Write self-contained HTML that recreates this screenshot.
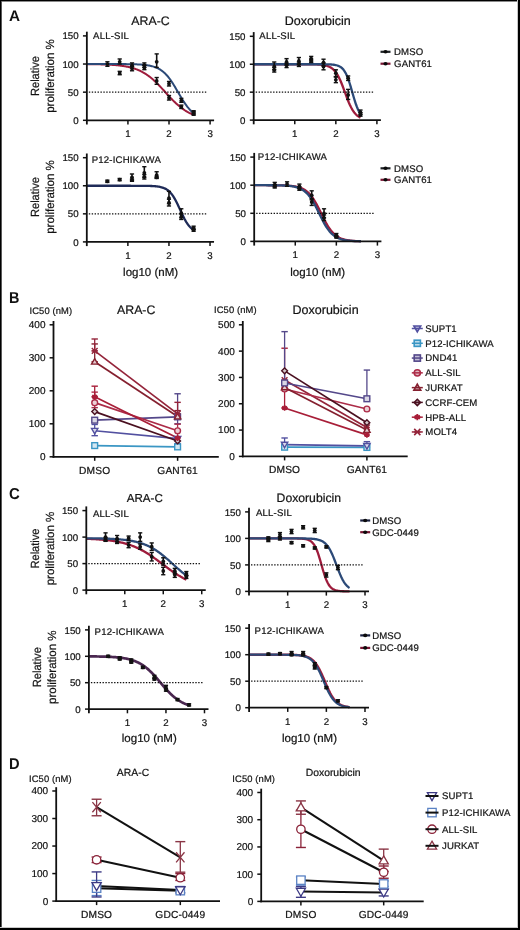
<!DOCTYPE html>
<html><head><meta charset="utf-8"><style>
html,body{margin:0;padding:0;background:#fff;}
body{width:520px;height:930px;overflow:hidden;position:relative;}
svg{position:absolute;left:0;top:0;font-family:"Liberation Sans", sans-serif;will-change:transform;filter:blur(0.3px);}
text{stroke:#1a1a1a;stroke-width:0.22px;text-rendering:geometricPrecision;}
.frame{position:absolute;left:0;top:0;width:520px;height:930px;box-sizing:border-box;border-style:solid;border-color:#000;border-width:1.5px 2px 2px 1.5px;}
</style></head><body>
<svg width="520" height="930" viewBox="0 0 520 930">
<text x="8.90" y="20.80" font-size="15.3" text-anchor="start" font-weight="bold" fill="#111" style="stroke-width:0px">A</text>
<path d="M86.85,64.15L87.74,64.16L88.63,64.17L89.52,64.18L90.41,64.19L91.30,64.20L92.19,64.21L93.08,64.22L93.97,64.24L94.86,64.25L95.75,64.27L96.64,64.29L97.53,64.30L98.42,64.32L99.31,64.35L100.20,64.37L101.09,64.39L101.98,64.42L102.87,64.45L103.76,64.48L104.65,64.51L105.54,64.54L106.43,64.58L107.32,64.62L108.21,64.66L109.10,64.71L109.99,64.75L110.88,64.80L111.77,64.86L112.66,64.92L113.55,64.98L114.44,65.05L115.33,65.12L116.22,65.20L117.11,65.28L118.00,65.37L118.89,65.47L119.78,65.57L120.67,65.67L121.56,65.79L122.45,65.91L123.34,66.04L124.23,66.18L125.12,66.33L126.01,66.49L126.90,66.66L127.79,66.84L128.68,67.04L129.57,67.24L130.46,67.46L131.35,67.69L132.24,67.94L133.13,68.20L134.02,68.48L134.91,68.77L135.80,69.09L136.69,69.42L137.58,69.77L138.47,70.14L139.36,70.53L140.25,70.94L141.14,71.37L142.03,71.83L142.92,72.31L143.81,72.82L144.70,73.35L145.59,73.90L146.48,74.49L147.37,75.09L148.26,75.73L149.15,76.39L150.04,77.07L150.93,77.79L151.82,78.53L152.71,79.29L153.60,80.08L154.50,80.89L155.39,81.73L156.28,82.59L157.17,83.47L158.06,84.36L158.95,85.28L159.84,86.21L160.73,87.16L161.62,88.11L162.51,89.08L163.40,90.05L164.29,91.03L165.18,92.01L166.07,93.00L166.96,93.98L167.85,94.95L168.74,95.92L169.63,96.88L170.52,97.83L171.41,98.77L172.30,99.69L173.19,100.59L174.08,101.48L174.97,102.34L175.86,103.18L176.75,104.00L177.64,104.80L178.53,105.57L179.42,106.32L180.31,107.04L181.20,107.73L182.09,108.40L182.98,109.04L183.87,109.66L184.76,110.25L185.65,110.81L186.54,111.35L187.43,111.87L188.32,112.35L189.21,112.82L190.10,113.26L190.99,113.68L191.88,114.08L192.77,114.45L193.66,114.81" stroke="#9e1c3c" stroke-width="2.0" fill="none" stroke-linejoin="round"/>
<path d="M86.85,64.03L87.74,64.03L88.63,64.03L89.52,64.03L90.41,64.03L91.30,64.03L92.19,64.03L93.08,64.03L93.97,64.03L94.86,64.03L95.75,64.03L96.64,64.03L97.53,64.03L98.42,64.03L99.31,64.03L100.20,64.03L101.09,64.03L101.98,64.03L102.87,64.04L103.76,64.04L104.65,64.04L105.54,64.04L106.43,64.04L107.32,64.04L108.21,64.04L109.10,64.04L109.99,64.04L110.88,64.04L111.77,64.05L112.66,64.05L113.55,64.05L114.44,64.05L115.33,64.05L116.22,64.06L117.11,64.06L118.00,64.06L118.89,64.07L119.78,64.07L120.67,64.08L121.56,64.08L122.45,64.09L123.34,64.10L124.23,64.10L125.12,64.11L126.01,64.12L126.90,64.13L127.79,64.14L128.68,64.16L129.57,64.17L130.46,64.19L131.35,64.21L132.24,64.23L133.13,64.25L134.02,64.28L134.91,64.30L135.80,64.34L136.69,64.37L137.58,64.41L138.47,64.45L139.36,64.50L140.25,64.56L141.14,64.62L142.03,64.69L142.92,64.76L143.81,64.84L144.70,64.94L145.59,65.04L146.48,65.16L147.37,65.28L148.26,65.42L149.15,65.58L150.04,65.76L150.93,65.95L151.82,66.16L152.71,66.40L153.60,66.66L154.50,66.95L155.39,67.27L156.28,67.62L157.17,68.01L158.06,68.44L158.95,68.90L159.84,69.42L160.73,69.97L161.62,70.58L162.51,71.25L163.40,71.97L164.29,72.74L165.18,73.58L166.07,74.49L166.96,75.45L167.85,76.48L168.74,77.58L169.63,78.74L170.52,79.96L171.41,81.25L172.30,82.59L173.19,83.98L174.08,85.41L174.97,86.88L175.86,88.39L176.75,89.91L177.64,91.45L178.53,93.00L179.42,94.53L180.31,96.06L181.20,97.56L182.09,99.03L182.98,100.46L183.87,101.85L184.76,103.18L185.65,104.46L186.54,105.68L187.43,106.84L188.32,107.93L189.21,108.95L190.10,109.92L190.99,110.81L191.88,111.65L192.77,112.42L193.66,113.14" stroke="#2c4a78" stroke-width="2.0" fill="none" stroke-linejoin="round"/>
<line x1="88.85" y1="92.16" x2="207.59" y2="92.16" stroke="#111" stroke-width="1.3" stroke-dasharray="1.4 1.5" stroke-linecap="butt"/>
<line x1="107.39" y1="61.78" x2="107.39" y2="66.28" stroke="#111" stroke-width="1.6" stroke-linecap="butt"/>
<line x1="105.29" y1="61.78" x2="109.49" y2="61.78" stroke="#111" stroke-width="1.4" stroke-linecap="butt"/>
<line x1="105.29" y1="66.28" x2="109.49" y2="66.28" stroke="#111" stroke-width="1.4" stroke-linecap="butt"/>
<circle cx="107.39" cy="64.03" r="1.9" fill="#111"/>
<line x1="119.71" y1="58.97" x2="119.71" y2="64.03" stroke="#111" stroke-width="1.6" stroke-linecap="butt"/>
<line x1="117.61" y1="58.97" x2="121.81" y2="58.97" stroke="#111" stroke-width="1.4" stroke-linecap="butt"/>
<line x1="117.61" y1="64.03" x2="121.81" y2="64.03" stroke="#111" stroke-width="1.4" stroke-linecap="butt"/>
<circle cx="119.71" cy="61.78" r="1.9" fill="#111"/>
<line x1="119.71" y1="71.35" x2="119.71" y2="74.72" stroke="#111" stroke-width="1.6" stroke-linecap="butt"/>
<line x1="117.61" y1="71.35" x2="121.81" y2="71.35" stroke="#111" stroke-width="1.4" stroke-linecap="butt"/>
<line x1="117.61" y1="74.72" x2="121.81" y2="74.72" stroke="#111" stroke-width="1.4" stroke-linecap="butt"/>
<circle cx="119.71" cy="73.03" r="1.9" fill="#111"/>
<line x1="132.04" y1="62.90" x2="132.04" y2="66.84" stroke="#111" stroke-width="1.6" stroke-linecap="butt"/>
<line x1="129.94" y1="62.90" x2="134.14" y2="62.90" stroke="#111" stroke-width="1.4" stroke-linecap="butt"/>
<line x1="129.94" y1="66.84" x2="134.14" y2="66.84" stroke="#111" stroke-width="1.4" stroke-linecap="butt"/>
<circle cx="132.04" cy="65.16" r="1.9" fill="#111"/>
<line x1="132.04" y1="66.28" x2="132.04" y2="70.78" stroke="#111" stroke-width="1.6" stroke-linecap="butt"/>
<line x1="129.94" y1="66.28" x2="134.14" y2="66.28" stroke="#111" stroke-width="1.4" stroke-linecap="butt"/>
<line x1="129.94" y1="70.78" x2="134.14" y2="70.78" stroke="#111" stroke-width="1.4" stroke-linecap="butt"/>
<circle cx="132.04" cy="68.53" r="1.9" fill="#111"/>
<line x1="144.36" y1="62.90" x2="144.36" y2="67.41" stroke="#111" stroke-width="1.6" stroke-linecap="butt"/>
<line x1="142.26" y1="62.90" x2="146.46" y2="62.90" stroke="#111" stroke-width="1.4" stroke-linecap="butt"/>
<line x1="142.26" y1="67.41" x2="146.46" y2="67.41" stroke="#111" stroke-width="1.4" stroke-linecap="butt"/>
<circle cx="144.36" cy="65.16" r="1.9" fill="#111"/>
<line x1="144.36" y1="65.16" x2="144.36" y2="69.66" stroke="#111" stroke-width="1.6" stroke-linecap="butt"/>
<line x1="142.26" y1="65.16" x2="146.46" y2="65.16" stroke="#111" stroke-width="1.4" stroke-linecap="butt"/>
<line x1="142.26" y1="69.66" x2="146.46" y2="69.66" stroke="#111" stroke-width="1.4" stroke-linecap="butt"/>
<circle cx="144.36" cy="67.41" r="1.9" fill="#111"/>
<line x1="156.69" y1="53.90" x2="156.69" y2="67.41" stroke="#111" stroke-width="1.6" stroke-linecap="butt"/>
<line x1="154.59" y1="53.90" x2="158.79" y2="53.90" stroke="#111" stroke-width="1.4" stroke-linecap="butt"/>
<line x1="154.59" y1="67.41" x2="158.79" y2="67.41" stroke="#111" stroke-width="1.4" stroke-linecap="butt"/>
<circle cx="156.69" cy="61.78" r="1.9" fill="#111"/>
<line x1="156.69" y1="77.53" x2="156.69" y2="84.29" stroke="#111" stroke-width="1.6" stroke-linecap="butt"/>
<line x1="154.59" y1="77.53" x2="158.79" y2="77.53" stroke="#111" stroke-width="1.4" stroke-linecap="butt"/>
<line x1="154.59" y1="84.29" x2="158.79" y2="84.29" stroke="#111" stroke-width="1.4" stroke-linecap="butt"/>
<circle cx="156.69" cy="80.91" r="1.9" fill="#111"/>
<line x1="169.01" y1="81.47" x2="169.01" y2="85.98" stroke="#111" stroke-width="1.6" stroke-linecap="butt"/>
<line x1="166.91" y1="81.47" x2="171.11" y2="81.47" stroke="#111" stroke-width="1.4" stroke-linecap="butt"/>
<line x1="166.91" y1="85.98" x2="171.11" y2="85.98" stroke="#111" stroke-width="1.4" stroke-linecap="butt"/>
<circle cx="169.01" cy="83.72" r="1.9" fill="#111"/>
<line x1="169.01" y1="95.54" x2="169.01" y2="100.04" stroke="#111" stroke-width="1.6" stroke-linecap="butt"/>
<line x1="166.91" y1="95.54" x2="171.11" y2="95.54" stroke="#111" stroke-width="1.4" stroke-linecap="butt"/>
<line x1="166.91" y1="100.04" x2="171.11" y2="100.04" stroke="#111" stroke-width="1.4" stroke-linecap="butt"/>
<circle cx="169.01" cy="97.79" r="1.9" fill="#111"/>
<line x1="181.33" y1="98.35" x2="181.33" y2="102.29" stroke="#111" stroke-width="1.6" stroke-linecap="butt"/>
<line x1="179.23" y1="98.35" x2="183.43" y2="98.35" stroke="#111" stroke-width="1.4" stroke-linecap="butt"/>
<line x1="179.23" y1="102.29" x2="183.43" y2="102.29" stroke="#111" stroke-width="1.4" stroke-linecap="butt"/>
<circle cx="181.33" cy="100.61" r="1.9" fill="#111"/>
<line x1="181.33" y1="105.11" x2="181.33" y2="108.48" stroke="#111" stroke-width="1.6" stroke-linecap="butt"/>
<line x1="179.23" y1="105.11" x2="183.43" y2="105.11" stroke="#111" stroke-width="1.4" stroke-linecap="butt"/>
<line x1="179.23" y1="108.48" x2="183.43" y2="108.48" stroke="#111" stroke-width="1.4" stroke-linecap="butt"/>
<circle cx="181.33" cy="106.80" r="1.9" fill="#111"/>
<line x1="193.66" y1="110.73" x2="193.66" y2="114.11" stroke="#111" stroke-width="1.6" stroke-linecap="butt"/>
<line x1="191.56" y1="110.73" x2="195.76" y2="110.73" stroke="#111" stroke-width="1.4" stroke-linecap="butt"/>
<line x1="191.56" y1="114.11" x2="195.76" y2="114.11" stroke="#111" stroke-width="1.4" stroke-linecap="butt"/>
<circle cx="193.66" cy="112.42" r="1.9" fill="#111"/>
<line x1="193.66" y1="111.86" x2="193.66" y2="115.24" stroke="#111" stroke-width="1.6" stroke-linecap="butt"/>
<line x1="191.56" y1="111.86" x2="195.76" y2="111.86" stroke="#111" stroke-width="1.4" stroke-linecap="butt"/>
<line x1="191.56" y1="115.24" x2="195.76" y2="115.24" stroke="#111" stroke-width="1.4" stroke-linecap="butt"/>
<circle cx="193.66" cy="113.55" r="1.9" fill="#111"/>
<line x1="86.85" y1="31.69" x2="86.85" y2="124.50" stroke="#111" stroke-width="1.8" stroke-linecap="butt"/>
<line x1="85.95" y1="120.30" x2="214.09" y2="120.30" stroke="#111" stroke-width="1.8" stroke-linecap="butt"/>
<line x1="82.95" y1="120.30" x2="86.85" y2="120.30" stroke="#111" stroke-width="1.5" stroke-linecap="butt"/>
<text x="78.65" y="123.90" font-size="9.7" text-anchor="end" fill="#111">0</text>
<line x1="82.95" y1="92.16" x2="86.85" y2="92.16" stroke="#111" stroke-width="1.5" stroke-linecap="butt"/>
<text x="78.65" y="95.76" font-size="9.7" text-anchor="end" fill="#111">50</text>
<line x1="82.95" y1="64.03" x2="86.85" y2="64.03" stroke="#111" stroke-width="1.5" stroke-linecap="butt"/>
<text x="78.65" y="67.63" font-size="9.7" text-anchor="end" fill="#111">100</text>
<line x1="82.95" y1="35.89" x2="86.85" y2="35.89" stroke="#111" stroke-width="1.5" stroke-linecap="butt"/>
<text x="78.65" y="39.49" font-size="9.7" text-anchor="end" fill="#111">150</text>
<line x1="127.93" y1="120.30" x2="127.93" y2="124.50" stroke="#111" stroke-width="1.5" stroke-linecap="butt"/>
<text x="127.93" y="137.30" font-size="9.7" text-anchor="middle" fill="#111">1</text>
<line x1="169.01" y1="120.30" x2="169.01" y2="124.50" stroke="#111" stroke-width="1.5" stroke-linecap="butt"/>
<text x="169.01" y="137.30" font-size="9.7" text-anchor="middle" fill="#111">2</text>
<line x1="210.09" y1="120.30" x2="210.09" y2="124.50" stroke="#111" stroke-width="1.5" stroke-linecap="butt"/>
<text x="210.09" y="137.30" font-size="9.7" text-anchor="middle" fill="#111">3</text>
<text x="93.05" y="38.80" font-size="9.6" text-anchor="start" fill="#111" letter-spacing="0.2">ALL-SIL</text>
<text x="150.50" y="25.30" font-size="12.3" text-anchor="middle" fill="#111">ARA-C</text>
<text x="38.70" y="76.00" font-size="11.8" text-anchor="middle" fill="#111" transform="rotate(-90 38.7 76)" textLength="40.1" lengthAdjust="spacingAndGlyphs">Relative</text>
<text x="53.70" y="76.00" font-size="11.8" text-anchor="middle" fill="#111" transform="rotate(-90 53.7 76)" textLength="73.6" lengthAdjust="spacingAndGlyphs">proliferation %</text>
<path d="M253.70,64.23L254.59,64.23L255.48,64.23L256.37,64.23L257.26,64.23L258.15,64.23L259.04,64.23L259.93,64.23L260.82,64.23L261.71,64.23L262.60,64.23L263.49,64.23L264.38,64.23L265.27,64.23L266.16,64.23L267.05,64.23L267.94,64.23L268.83,64.23L269.72,64.23L270.61,64.23L271.50,64.23L272.39,64.23L273.28,64.23L274.17,64.23L275.06,64.23L275.95,64.23L276.84,64.23L277.73,64.23L278.62,64.23L279.51,64.23L280.40,64.23L281.29,64.23L282.18,64.23L283.07,64.23L283.95,64.23L284.84,64.23L285.73,64.23L286.62,64.23L287.51,64.23L288.40,64.23L289.29,64.23L290.18,64.23L291.07,64.23L291.96,64.23L292.85,64.23L293.74,64.23L294.63,64.23L295.52,64.23L296.41,64.23L297.30,64.23L298.19,64.24L299.08,64.24L299.97,64.24L300.86,64.24L301.75,64.24L302.64,64.24L303.53,64.25L304.42,64.25L305.31,64.25L306.20,64.26L307.09,64.26L307.98,64.27L308.87,64.28L309.76,64.29L310.65,64.30L311.54,64.31L312.43,64.33L313.32,64.34L314.21,64.37L315.10,64.39L315.99,64.42L316.88,64.46L317.77,64.50L318.66,64.55L319.55,64.62L320.44,64.69L321.33,64.77L322.22,64.88L323.11,65.00L324.00,65.14L324.89,65.31L325.78,65.52L326.67,65.76L327.56,66.04L328.45,66.37L329.34,66.76L330.23,67.22L331.12,67.75L332.01,68.37L332.90,69.09L333.79,69.92L334.68,70.88L335.57,71.98L336.46,73.22L337.35,74.61L338.24,76.17L339.13,77.89L340.02,79.77L340.91,81.80L341.80,83.97L342.69,86.25L343.57,88.62L344.46,91.04L345.35,93.48L346.24,95.89L347.13,98.26L348.02,100.53L348.91,102.69L349.80,104.71L350.69,106.58L351.58,108.29L352.47,109.83L353.36,111.22L354.25,112.44L355.14,113.53L356.03,114.47L356.92,115.30L357.81,116.01L358.70,116.62L359.59,117.15L360.48,117.60" stroke="#9e1c3c" stroke-width="2.3" fill="none" stroke-linejoin="round"/>
<path d="M253.70,64.23L254.59,64.23L255.48,64.23L256.37,64.23L257.26,64.23L258.15,64.23L259.04,64.23L259.93,64.23L260.82,64.23L261.71,64.23L262.60,64.23L263.49,64.23L264.38,64.23L265.27,64.23L266.16,64.23L267.05,64.23L267.94,64.23L268.83,64.23L269.72,64.23L270.61,64.23L271.50,64.23L272.39,64.23L273.28,64.23L274.17,64.23L275.06,64.23L275.95,64.23L276.84,64.23L277.73,64.23L278.62,64.23L279.51,64.23L280.40,64.23L281.29,64.23L282.18,64.23L283.07,64.23L283.95,64.23L284.84,64.23L285.73,64.23L286.62,64.23L287.51,64.23L288.40,64.23L289.29,64.23L290.18,64.23L291.07,64.23L291.96,64.23L292.85,64.23L293.74,64.23L294.63,64.23L295.52,64.23L296.41,64.23L297.30,64.23L298.19,64.23L299.08,64.23L299.97,64.23L300.86,64.23L301.75,64.23L302.64,64.23L303.53,64.23L304.42,64.23L305.31,64.23L306.20,64.23L307.09,64.23L307.98,64.23L308.87,64.23L309.76,64.23L310.65,64.23L311.54,64.23L312.43,64.23L313.32,64.23L314.21,64.23L315.10,64.23L315.99,64.24L316.88,64.24L317.77,64.24L318.66,64.24L319.55,64.24L320.44,64.25L321.33,64.25L322.22,64.26L323.11,64.27L324.00,64.27L324.89,64.29L325.78,64.30L326.67,64.32L327.56,64.34L328.45,64.37L329.34,64.40L330.23,64.44L331.12,64.50L332.01,64.56L332.90,64.65L333.79,64.75L334.68,64.88L335.57,65.04L336.46,65.25L337.35,65.50L338.24,65.80L339.13,66.19L340.02,66.66L340.91,67.24L341.80,67.94L342.69,68.80L343.57,69.84L344.46,71.08L345.35,72.54L346.24,74.26L347.13,76.24L348.02,78.49L348.91,81.00L349.80,83.75L350.69,86.69L351.58,89.76L352.47,92.89L353.36,96.00L354.25,99.02L355.14,101.87L356.03,104.52L356.92,106.91L357.81,109.04L358.70,110.90L359.59,112.49L360.48,113.85" stroke="#2c4a78" stroke-width="2.3" fill="none" stroke-linejoin="round"/>
<line x1="255.70" y1="92.16" x2="374.41" y2="92.16" stroke="#111" stroke-width="1.3" stroke-dasharray="1.4 1.5" stroke-linecap="butt"/>
<line x1="274.24" y1="62.00" x2="274.24" y2="69.82" stroke="#111" stroke-width="1.6" stroke-linecap="butt"/>
<line x1="272.13" y1="62.00" x2="276.34" y2="62.00" stroke="#111" stroke-width="1.4" stroke-linecap="butt"/>
<line x1="272.13" y1="69.82" x2="276.34" y2="69.82" stroke="#111" stroke-width="1.4" stroke-linecap="butt"/>
<circle cx="274.24" cy="66.46" r="1.9" fill="#111"/>
<line x1="274.24" y1="67.58" x2="274.24" y2="72.05" stroke="#111" stroke-width="1.6" stroke-linecap="butt"/>
<line x1="272.13" y1="67.58" x2="276.34" y2="67.58" stroke="#111" stroke-width="1.4" stroke-linecap="butt"/>
<line x1="272.13" y1="72.05" x2="276.34" y2="72.05" stroke="#111" stroke-width="1.4" stroke-linecap="butt"/>
<circle cx="274.24" cy="69.82" r="1.9" fill="#111"/>
<line x1="286.56" y1="58.64" x2="286.56" y2="64.79" stroke="#111" stroke-width="1.6" stroke-linecap="butt"/>
<line x1="284.46" y1="58.64" x2="288.66" y2="58.64" stroke="#111" stroke-width="1.4" stroke-linecap="butt"/>
<line x1="284.46" y1="64.79" x2="288.66" y2="64.79" stroke="#111" stroke-width="1.4" stroke-linecap="butt"/>
<circle cx="286.56" cy="62.00" r="1.9" fill="#111"/>
<line x1="286.56" y1="63.11" x2="286.56" y2="67.58" stroke="#111" stroke-width="1.6" stroke-linecap="butt"/>
<line x1="284.46" y1="63.11" x2="288.66" y2="63.11" stroke="#111" stroke-width="1.4" stroke-linecap="butt"/>
<line x1="284.46" y1="67.58" x2="288.66" y2="67.58" stroke="#111" stroke-width="1.4" stroke-linecap="butt"/>
<circle cx="286.56" cy="65.35" r="1.9" fill="#111"/>
<line x1="298.88" y1="57.53" x2="298.88" y2="64.23" stroke="#111" stroke-width="1.6" stroke-linecap="butt"/>
<line x1="296.78" y1="57.53" x2="300.98" y2="57.53" stroke="#111" stroke-width="1.4" stroke-linecap="butt"/>
<line x1="296.78" y1="64.23" x2="300.98" y2="64.23" stroke="#111" stroke-width="1.4" stroke-linecap="butt"/>
<circle cx="298.88" cy="60.88" r="1.9" fill="#111"/>
<line x1="298.88" y1="62.00" x2="298.88" y2="66.46" stroke="#111" stroke-width="1.6" stroke-linecap="butt"/>
<line x1="296.78" y1="62.00" x2="300.98" y2="62.00" stroke="#111" stroke-width="1.4" stroke-linecap="butt"/>
<line x1="296.78" y1="66.46" x2="300.98" y2="66.46" stroke="#111" stroke-width="1.4" stroke-linecap="butt"/>
<circle cx="298.88" cy="64.23" r="1.9" fill="#111"/>
<line x1="311.20" y1="56.41" x2="311.20" y2="60.88" stroke="#111" stroke-width="1.6" stroke-linecap="butt"/>
<line x1="309.10" y1="56.41" x2="313.30" y2="56.41" stroke="#111" stroke-width="1.4" stroke-linecap="butt"/>
<line x1="309.10" y1="60.88" x2="313.30" y2="60.88" stroke="#111" stroke-width="1.4" stroke-linecap="butt"/>
<circle cx="311.20" cy="58.64" r="1.9" fill="#111"/>
<line x1="311.20" y1="59.20" x2="311.20" y2="62.55" stroke="#111" stroke-width="1.6" stroke-linecap="butt"/>
<line x1="309.10" y1="59.20" x2="313.30" y2="59.20" stroke="#111" stroke-width="1.4" stroke-linecap="butt"/>
<line x1="309.10" y1="62.55" x2="313.30" y2="62.55" stroke="#111" stroke-width="1.4" stroke-linecap="butt"/>
<circle cx="311.20" cy="60.88" r="1.9" fill="#111"/>
<line x1="323.52" y1="59.20" x2="323.52" y2="65.91" stroke="#111" stroke-width="1.6" stroke-linecap="butt"/>
<line x1="321.42" y1="59.20" x2="325.62" y2="59.20" stroke="#111" stroke-width="1.4" stroke-linecap="butt"/>
<line x1="321.42" y1="65.91" x2="325.62" y2="65.91" stroke="#111" stroke-width="1.4" stroke-linecap="butt"/>
<circle cx="323.52" cy="62.55" r="1.9" fill="#111"/>
<line x1="323.52" y1="63.11" x2="323.52" y2="69.82" stroke="#111" stroke-width="1.6" stroke-linecap="butt"/>
<line x1="321.42" y1="63.11" x2="325.62" y2="63.11" stroke="#111" stroke-width="1.4" stroke-linecap="butt"/>
<line x1="321.42" y1="69.82" x2="325.62" y2="69.82" stroke="#111" stroke-width="1.4" stroke-linecap="butt"/>
<circle cx="323.52" cy="66.46" r="1.9" fill="#111"/>
<line x1="335.84" y1="69.82" x2="335.84" y2="76.52" stroke="#111" stroke-width="1.6" stroke-linecap="butt"/>
<line x1="333.74" y1="69.82" x2="337.94" y2="69.82" stroke="#111" stroke-width="1.4" stroke-linecap="butt"/>
<line x1="333.74" y1="76.52" x2="337.94" y2="76.52" stroke="#111" stroke-width="1.4" stroke-linecap="butt"/>
<circle cx="335.84" cy="73.17" r="1.9" fill="#111"/>
<line x1="335.84" y1="77.08" x2="335.84" y2="82.67" stroke="#111" stroke-width="1.6" stroke-linecap="butt"/>
<line x1="333.74" y1="77.08" x2="337.94" y2="77.08" stroke="#111" stroke-width="1.4" stroke-linecap="butt"/>
<line x1="333.74" y1="82.67" x2="337.94" y2="82.67" stroke="#111" stroke-width="1.4" stroke-linecap="butt"/>
<circle cx="335.84" cy="79.87" r="1.9" fill="#111"/>
<line x1="348.16" y1="75.96" x2="348.16" y2="80.43" stroke="#111" stroke-width="1.6" stroke-linecap="butt"/>
<line x1="346.06" y1="75.96" x2="350.26" y2="75.96" stroke="#111" stroke-width="1.4" stroke-linecap="butt"/>
<line x1="346.06" y1="80.43" x2="350.26" y2="80.43" stroke="#111" stroke-width="1.4" stroke-linecap="butt"/>
<circle cx="348.16" cy="78.20" r="1.9" fill="#111"/>
<line x1="348.16" y1="89.37" x2="348.16" y2="99.43" stroke="#111" stroke-width="1.6" stroke-linecap="butt"/>
<line x1="346.06" y1="89.37" x2="350.26" y2="89.37" stroke="#111" stroke-width="1.4" stroke-linecap="butt"/>
<line x1="346.06" y1="99.43" x2="350.26" y2="99.43" stroke="#111" stroke-width="1.4" stroke-linecap="butt"/>
<circle cx="348.16" cy="94.96" r="1.9" fill="#111"/>
<line x1="360.48" y1="110.04" x2="360.48" y2="114.51" stroke="#111" stroke-width="1.6" stroke-linecap="butt"/>
<line x1="358.38" y1="110.04" x2="362.58" y2="110.04" stroke="#111" stroke-width="1.4" stroke-linecap="butt"/>
<line x1="358.38" y1="114.51" x2="362.58" y2="114.51" stroke="#111" stroke-width="1.4" stroke-linecap="butt"/>
<circle cx="360.48" cy="112.28" r="1.9" fill="#111"/>
<line x1="360.48" y1="112.84" x2="360.48" y2="116.19" stroke="#111" stroke-width="1.6" stroke-linecap="butt"/>
<line x1="358.38" y1="112.84" x2="362.58" y2="112.84" stroke="#111" stroke-width="1.4" stroke-linecap="butt"/>
<line x1="358.38" y1="116.19" x2="362.58" y2="116.19" stroke="#111" stroke-width="1.4" stroke-linecap="butt"/>
<circle cx="360.48" cy="114.51" r="1.9" fill="#111"/>
<line x1="253.70" y1="32.09" x2="253.70" y2="124.30" stroke="#111" stroke-width="1.8" stroke-linecap="butt"/>
<line x1="252.80" y1="120.10" x2="380.91" y2="120.10" stroke="#111" stroke-width="1.8" stroke-linecap="butt"/>
<line x1="249.80" y1="120.10" x2="253.70" y2="120.10" stroke="#111" stroke-width="1.5" stroke-linecap="butt"/>
<text x="245.50" y="123.70" font-size="9.7" text-anchor="end" fill="#111">0</text>
<line x1="249.80" y1="92.16" x2="253.70" y2="92.16" stroke="#111" stroke-width="1.5" stroke-linecap="butt"/>
<text x="245.50" y="95.76" font-size="9.7" text-anchor="end" fill="#111">50</text>
<line x1="249.80" y1="64.23" x2="253.70" y2="64.23" stroke="#111" stroke-width="1.5" stroke-linecap="butt"/>
<text x="245.50" y="67.83" font-size="9.7" text-anchor="end" fill="#111">100</text>
<line x1="249.80" y1="36.30" x2="253.70" y2="36.30" stroke="#111" stroke-width="1.5" stroke-linecap="butt"/>
<text x="245.50" y="39.90" font-size="9.7" text-anchor="end" fill="#111">150</text>
<line x1="294.77" y1="120.10" x2="294.77" y2="124.30" stroke="#111" stroke-width="1.5" stroke-linecap="butt"/>
<text x="294.77" y="137.10" font-size="9.7" text-anchor="middle" fill="#111">1</text>
<line x1="335.84" y1="120.10" x2="335.84" y2="124.30" stroke="#111" stroke-width="1.5" stroke-linecap="butt"/>
<text x="335.84" y="137.10" font-size="9.7" text-anchor="middle" fill="#111">2</text>
<line x1="376.91" y1="120.10" x2="376.91" y2="124.30" stroke="#111" stroke-width="1.5" stroke-linecap="butt"/>
<text x="376.91" y="137.10" font-size="9.7" text-anchor="middle" fill="#111">3</text>
<text x="259.30" y="39.10" font-size="9.6" text-anchor="start" fill="#111" letter-spacing="0.2">ALL-SIL</text>
<text x="317.70" y="24.80" font-size="12.5" text-anchor="middle" fill="#111">Doxorubicin</text>
<line x1="380.50" y1="51.80" x2="390.50" y2="51.80" stroke="#1e2226" stroke-width="2.2" stroke-linecap="butt"/>
<ellipse cx="385.50" cy="51.80" rx="2.1" ry="1.8" fill="#0a0a0a"/>
<text x="394.10" y="55.20" font-size="9.6" text-anchor="start" fill="#111" letter-spacing="0.1">DMSO</text>
<line x1="380.50" y1="63.70" x2="390.50" y2="63.70" stroke="#7a1634" stroke-width="2.2" stroke-linecap="butt"/>
<ellipse cx="385.50" cy="63.70" rx="2.1" ry="1.8" fill="#0a0a0a"/>
<text x="394.10" y="67.10" font-size="9.6" text-anchor="start" fill="#111" letter-spacing="0.1">GANT61</text>
<path d="M86.80,185.77L87.69,185.77L88.58,185.77L89.47,185.77L90.36,185.77L91.25,185.77L92.14,185.77L93.03,185.77L93.92,185.77L94.81,185.77L95.70,185.77L96.59,185.77L97.48,185.77L98.37,185.77L99.26,185.77L100.15,185.77L101.04,185.77L101.93,185.77L102.82,185.77L103.71,185.77L104.60,185.77L105.49,185.77L106.38,185.77L107.27,185.77L108.16,185.77L109.05,185.77L109.94,185.77L110.83,185.77L111.72,185.77L112.61,185.77L113.50,185.77L114.39,185.77L115.28,185.77L116.17,185.77L117.06,185.77L117.95,185.77L118.84,185.77L119.73,185.77L120.62,185.77L121.51,185.77L122.40,185.77L123.29,185.77L124.18,185.77L125.07,185.77L125.96,185.77L126.85,185.77L127.74,185.77L128.63,185.77L129.52,185.77L130.41,185.77L131.30,185.78L132.19,185.78L133.08,185.78L133.97,185.78L134.86,185.78L135.75,185.78L136.64,185.79L137.53,185.79L138.42,185.79L139.31,185.80L140.20,185.80L141.09,185.81L141.98,185.81L142.87,185.82L143.76,185.83L144.65,185.84L145.54,185.85L146.43,185.86L147.32,185.88L148.21,185.90L149.10,185.93L149.99,185.95L150.88,185.99L151.77,186.02L152.66,186.07L153.56,186.12L154.45,186.18L155.34,186.26L156.23,186.34L157.12,186.45L158.01,186.56L158.90,186.70L159.79,186.87L160.68,187.06L161.57,187.28L162.46,187.54L163.35,187.85L164.24,188.20L165.13,188.61L166.02,189.08L166.91,189.62L167.80,190.25L168.69,190.96L169.58,191.78L170.47,192.70L171.36,193.73L172.25,194.88L173.14,196.16L174.03,197.56L174.92,199.08L175.81,200.71L176.70,202.45L177.59,204.28L178.48,206.18L179.37,208.12L180.26,210.08L181.15,212.03L182.04,213.96L182.93,215.82L183.82,217.61L184.71,219.31L185.60,220.89L186.49,222.36L187.38,223.70L188.27,224.92L189.16,226.01L190.05,226.99L190.94,227.86L191.83,228.63L192.72,229.30L193.61,229.89" stroke="#1f2b58" stroke-width="2.3" fill="none" stroke-linejoin="round"/>
<line x1="88.80" y1="213.84" x2="207.54" y2="213.84" stroke="#111" stroke-width="1.3" stroke-dasharray="1.4 1.5" stroke-linecap="butt"/>
<line x1="107.34" y1="180.16" x2="107.34" y2="182.40" stroke="#111" stroke-width="1.6" stroke-linecap="butt"/>
<line x1="105.24" y1="180.16" x2="109.44" y2="180.16" stroke="#111" stroke-width="1.4" stroke-linecap="butt"/>
<line x1="105.24" y1="182.40" x2="109.44" y2="182.40" stroke="#111" stroke-width="1.4" stroke-linecap="butt"/>
<circle cx="107.34" cy="181.28" r="1.9" fill="#111"/>
<line x1="119.66" y1="178.47" x2="119.66" y2="180.72" stroke="#111" stroke-width="1.6" stroke-linecap="butt"/>
<line x1="117.56" y1="178.47" x2="121.76" y2="178.47" stroke="#111" stroke-width="1.4" stroke-linecap="butt"/>
<line x1="117.56" y1="180.72" x2="121.76" y2="180.72" stroke="#111" stroke-width="1.4" stroke-linecap="butt"/>
<circle cx="119.66" cy="179.60" r="1.9" fill="#111"/>
<line x1="131.99" y1="173.98" x2="131.99" y2="180.16" stroke="#111" stroke-width="1.6" stroke-linecap="butt"/>
<line x1="129.89" y1="173.98" x2="134.09" y2="173.98" stroke="#111" stroke-width="1.4" stroke-linecap="butt"/>
<line x1="129.89" y1="180.16" x2="134.09" y2="180.16" stroke="#111" stroke-width="1.4" stroke-linecap="butt"/>
<circle cx="131.99" cy="177.35" r="1.9" fill="#111"/>
<line x1="131.99" y1="179.03" x2="131.99" y2="181.28" stroke="#111" stroke-width="1.6" stroke-linecap="butt"/>
<line x1="129.89" y1="179.03" x2="134.09" y2="179.03" stroke="#111" stroke-width="1.4" stroke-linecap="butt"/>
<line x1="129.89" y1="181.28" x2="134.09" y2="181.28" stroke="#111" stroke-width="1.4" stroke-linecap="butt"/>
<circle cx="131.99" cy="180.16" r="1.9" fill="#111"/>
<line x1="144.31" y1="166.69" x2="144.31" y2="177.35" stroke="#111" stroke-width="1.6" stroke-linecap="butt"/>
<line x1="142.21" y1="166.69" x2="146.41" y2="166.69" stroke="#111" stroke-width="1.4" stroke-linecap="butt"/>
<line x1="142.21" y1="177.35" x2="146.41" y2="177.35" stroke="#111" stroke-width="1.4" stroke-linecap="butt"/>
<circle cx="144.31" cy="172.86" r="1.9" fill="#111"/>
<line x1="144.31" y1="174.54" x2="144.31" y2="179.03" stroke="#111" stroke-width="1.6" stroke-linecap="butt"/>
<line x1="142.21" y1="174.54" x2="146.41" y2="174.54" stroke="#111" stroke-width="1.4" stroke-linecap="butt"/>
<line x1="142.21" y1="179.03" x2="146.41" y2="179.03" stroke="#111" stroke-width="1.4" stroke-linecap="butt"/>
<circle cx="144.31" cy="176.79" r="1.9" fill="#111"/>
<line x1="156.64" y1="171.74" x2="156.64" y2="177.91" stroke="#111" stroke-width="1.6" stroke-linecap="butt"/>
<line x1="154.54" y1="171.74" x2="158.74" y2="171.74" stroke="#111" stroke-width="1.4" stroke-linecap="butt"/>
<line x1="154.54" y1="177.91" x2="158.74" y2="177.91" stroke="#111" stroke-width="1.4" stroke-linecap="butt"/>
<circle cx="156.64" cy="175.11" r="1.9" fill="#111"/>
<line x1="156.64" y1="176.23" x2="156.64" y2="178.47" stroke="#111" stroke-width="1.6" stroke-linecap="butt"/>
<line x1="154.54" y1="176.23" x2="158.74" y2="176.23" stroke="#111" stroke-width="1.4" stroke-linecap="butt"/>
<line x1="154.54" y1="178.47" x2="158.74" y2="178.47" stroke="#111" stroke-width="1.4" stroke-linecap="butt"/>
<circle cx="156.64" cy="177.35" r="1.9" fill="#111"/>
<line x1="168.96" y1="191.38" x2="168.96" y2="203.73" stroke="#111" stroke-width="1.6" stroke-linecap="butt"/>
<line x1="166.86" y1="191.38" x2="171.06" y2="191.38" stroke="#111" stroke-width="1.4" stroke-linecap="butt"/>
<line x1="166.86" y1="203.73" x2="171.06" y2="203.73" stroke="#111" stroke-width="1.4" stroke-linecap="butt"/>
<circle cx="168.96" cy="198.12" r="1.9" fill="#111"/>
<line x1="168.96" y1="199.24" x2="168.96" y2="205.98" stroke="#111" stroke-width="1.6" stroke-linecap="butt"/>
<line x1="166.86" y1="199.24" x2="171.06" y2="199.24" stroke="#111" stroke-width="1.4" stroke-linecap="butt"/>
<line x1="166.86" y1="205.98" x2="171.06" y2="205.98" stroke="#111" stroke-width="1.4" stroke-linecap="butt"/>
<circle cx="168.96" cy="202.61" r="1.9" fill="#111"/>
<line x1="181.28" y1="208.78" x2="181.28" y2="217.76" stroke="#111" stroke-width="1.6" stroke-linecap="butt"/>
<line x1="179.18" y1="208.78" x2="183.38" y2="208.78" stroke="#111" stroke-width="1.4" stroke-linecap="butt"/>
<line x1="179.18" y1="217.76" x2="183.38" y2="217.76" stroke="#111" stroke-width="1.4" stroke-linecap="butt"/>
<circle cx="181.28" cy="213.27" r="1.9" fill="#111"/>
<line x1="181.28" y1="213.84" x2="181.28" y2="219.45" stroke="#111" stroke-width="1.6" stroke-linecap="butt"/>
<line x1="179.18" y1="213.84" x2="183.38" y2="213.84" stroke="#111" stroke-width="1.4" stroke-linecap="butt"/>
<line x1="179.18" y1="219.45" x2="183.38" y2="219.45" stroke="#111" stroke-width="1.4" stroke-linecap="butt"/>
<circle cx="181.28" cy="216.64" r="1.9" fill="#111"/>
<line x1="193.61" y1="226.18" x2="193.61" y2="229.55" stroke="#111" stroke-width="1.6" stroke-linecap="butt"/>
<line x1="191.51" y1="226.18" x2="195.71" y2="226.18" stroke="#111" stroke-width="1.4" stroke-linecap="butt"/>
<line x1="191.51" y1="229.55" x2="195.71" y2="229.55" stroke="#111" stroke-width="1.4" stroke-linecap="butt"/>
<circle cx="193.61" cy="227.87" r="1.9" fill="#111"/>
<line x1="193.61" y1="228.99" x2="193.61" y2="231.24" stroke="#111" stroke-width="1.6" stroke-linecap="butt"/>
<line x1="191.51" y1="228.99" x2="195.71" y2="228.99" stroke="#111" stroke-width="1.4" stroke-linecap="butt"/>
<line x1="191.51" y1="231.24" x2="195.71" y2="231.24" stroke="#111" stroke-width="1.4" stroke-linecap="butt"/>
<circle cx="193.61" cy="230.11" r="1.9" fill="#111"/>
<line x1="86.80" y1="153.50" x2="86.80" y2="246.10" stroke="#111" stroke-width="1.8" stroke-linecap="butt"/>
<line x1="85.90" y1="241.90" x2="214.04" y2="241.90" stroke="#111" stroke-width="1.8" stroke-linecap="butt"/>
<line x1="82.90" y1="241.90" x2="86.80" y2="241.90" stroke="#111" stroke-width="1.5" stroke-linecap="butt"/>
<text x="78.60" y="245.50" font-size="9.7" text-anchor="end" fill="#111">0</text>
<line x1="82.90" y1="213.84" x2="86.80" y2="213.84" stroke="#111" stroke-width="1.5" stroke-linecap="butt"/>
<text x="78.60" y="217.44" font-size="9.7" text-anchor="end" fill="#111">50</text>
<line x1="82.90" y1="185.77" x2="86.80" y2="185.77" stroke="#111" stroke-width="1.5" stroke-linecap="butt"/>
<text x="78.60" y="189.37" font-size="9.7" text-anchor="end" fill="#111">100</text>
<line x1="82.90" y1="157.70" x2="86.80" y2="157.70" stroke="#111" stroke-width="1.5" stroke-linecap="butt"/>
<text x="78.60" y="161.30" font-size="9.7" text-anchor="end" fill="#111">150</text>
<line x1="127.88" y1="241.90" x2="127.88" y2="246.10" stroke="#111" stroke-width="1.5" stroke-linecap="butt"/>
<text x="127.88" y="258.90" font-size="9.7" text-anchor="middle" fill="#111">1</text>
<line x1="168.96" y1="241.90" x2="168.96" y2="246.10" stroke="#111" stroke-width="1.5" stroke-linecap="butt"/>
<text x="168.96" y="258.90" font-size="9.7" text-anchor="middle" fill="#111">2</text>
<line x1="210.04" y1="241.90" x2="210.04" y2="246.10" stroke="#111" stroke-width="1.5" stroke-linecap="butt"/>
<text x="210.04" y="258.90" font-size="9.7" text-anchor="middle" fill="#111">3</text>
<text x="91.70" y="162.60" font-size="9.6" text-anchor="start" fill="#111" letter-spacing="0.2">P12-ICHIKAWA</text>
<text x="150.60" y="275.60" font-size="11.5" text-anchor="middle" fill="#111">log10 (nM)</text>
<text x="38.70" y="197.00" font-size="11.8" text-anchor="middle" fill="#111" transform="rotate(-90 38.7 197)" textLength="40.1" lengthAdjust="spacingAndGlyphs">Relative</text>
<text x="53.70" y="197.00" font-size="11.8" text-anchor="middle" fill="#111" transform="rotate(-90 53.7 197)" textLength="73.6" lengthAdjust="spacingAndGlyphs">proliferation %</text>
<path d="M254.20,185.20L255.09,185.20L255.98,185.20L256.87,185.20L257.76,185.21L258.65,185.21L259.54,185.21L260.43,185.21L261.32,185.21L262.21,185.21L263.10,185.21L263.99,185.21L264.88,185.22L265.77,185.22L266.66,185.22L267.55,185.22L268.44,185.23L269.33,185.23L270.22,185.23L271.11,185.24L272.00,185.24L272.89,185.25L273.78,185.26L274.67,185.26L275.56,185.27L276.45,185.28L277.34,185.29L278.23,185.31L279.12,185.32L280.01,185.34L280.90,185.36L281.79,185.38L282.68,185.41L283.57,185.43L284.45,185.47L285.34,185.50L286.23,185.54L287.12,185.59L288.01,185.65L288.90,185.71L289.79,185.78L290.68,185.86L291.57,185.94L292.46,186.05L293.35,186.16L294.24,186.29L295.13,186.44L296.02,186.61L296.91,186.80L297.80,187.01L298.69,187.25L299.58,187.52L300.47,187.83L301.36,188.18L302.25,188.56L303.14,189.00L304.03,189.49L304.92,190.03L305.81,190.63L306.70,191.30L307.59,192.04L308.48,192.86L309.37,193.76L310.26,194.75L311.15,195.82L312.04,196.98L312.93,198.24L313.82,199.58L314.71,201.01L315.60,202.52L316.49,204.12L317.38,205.78L318.27,207.50L319.16,209.26L320.05,211.06L320.94,212.88L321.83,214.70L322.72,216.51L323.61,218.29L324.50,220.04L325.39,221.72L326.28,223.35L327.17,224.90L328.06,226.37L328.95,227.76L329.84,229.05L330.73,230.26L331.62,231.37L332.51,232.39L333.40,233.33L334.29,234.19L335.18,234.96L336.07,235.67L336.96,236.30L337.85,236.87L338.74,237.38L339.63,237.84L340.52,238.25L341.41,238.61L342.30,238.94L343.19,239.23L344.07,239.48L344.96,239.71L345.85,239.91L346.74,240.09L347.63,240.24L348.52,240.38L349.41,240.50L350.30,240.61L351.19,240.70L352.08,240.79L352.97,240.86L353.86,240.93L354.75,240.98L355.64,241.03L356.53,241.08L357.42,241.12L358.31,241.15L359.20,241.18L360.09,241.21L360.98,241.23" stroke="#9e1c3c" stroke-width="2.3" fill="none" stroke-linejoin="round"/>
<path d="M254.20,185.20L255.09,185.20L255.98,185.21L256.87,185.21L257.76,185.21L258.65,185.21L259.54,185.21L260.43,185.21L261.32,185.21L262.21,185.21L263.10,185.22L263.99,185.22L264.88,185.22L265.77,185.22L266.66,185.23L267.55,185.23L268.44,185.23L269.33,185.24L270.22,185.25L271.11,185.25L272.00,185.26L272.89,185.27L273.78,185.28L274.67,185.29L275.56,185.30L276.45,185.31L277.34,185.33L278.23,185.35L279.12,185.37L280.01,185.39L280.90,185.41L281.79,185.44L282.68,185.48L283.57,185.51L284.45,185.56L285.34,185.61L286.23,185.66L287.12,185.73L288.01,185.80L288.90,185.88L289.79,185.97L290.68,186.08L291.57,186.20L292.46,186.34L293.35,186.49L294.24,186.66L295.13,186.86L296.02,187.08L296.91,187.33L297.80,187.62L298.69,187.93L299.58,188.29L300.47,188.69L301.36,189.14L302.25,189.65L303.14,190.21L304.03,190.83L304.92,191.52L305.81,192.29L306.70,193.13L307.59,194.06L308.48,195.07L309.37,196.17L310.26,197.36L311.15,198.64L312.04,200.01L312.93,201.47L313.82,203.01L314.71,204.62L315.60,206.30L316.49,208.04L317.38,209.81L318.27,211.62L319.16,213.44L320.05,215.26L320.94,217.06L321.83,218.83L322.72,220.56L323.61,222.23L324.50,223.84L325.39,225.36L326.28,226.81L327.17,228.16L328.06,229.43L328.95,230.61L329.84,231.69L330.73,232.69L331.62,233.60L332.51,234.43L333.40,235.19L334.29,235.87L335.18,236.48L336.07,237.04L336.96,237.53L337.85,237.97L338.74,238.37L339.63,238.72L340.52,239.03L341.41,239.31L342.30,239.55L343.19,239.77L344.07,239.97L344.96,240.14L345.85,240.29L346.74,240.42L347.63,240.54L348.52,240.64L349.41,240.73L350.30,240.81L351.19,240.88L352.08,240.95L352.97,241.00L353.86,241.05L354.75,241.09L355.64,241.13L356.53,241.16L357.42,241.19L358.31,241.22L359.20,241.24L360.09,241.26L360.98,241.28" stroke="#2c4a78" stroke-width="2.3" fill="none" stroke-linejoin="round"/>
<line x1="256.20" y1="213.30" x2="374.91" y2="213.30" stroke="#111" stroke-width="1.3" stroke-dasharray="1.4 1.5" stroke-linecap="butt"/>
<line x1="274.74" y1="182.39" x2="274.74" y2="186.89" stroke="#111" stroke-width="1.6" stroke-linecap="butt"/>
<line x1="272.63" y1="182.39" x2="276.84" y2="182.39" stroke="#111" stroke-width="1.4" stroke-linecap="butt"/>
<line x1="272.63" y1="186.89" x2="276.84" y2="186.89" stroke="#111" stroke-width="1.4" stroke-linecap="butt"/>
<circle cx="274.74" cy="184.64" r="1.9" fill="#111"/>
<line x1="274.74" y1="184.64" x2="274.74" y2="188.01" stroke="#111" stroke-width="1.6" stroke-linecap="butt"/>
<line x1="272.63" y1="184.64" x2="276.84" y2="184.64" stroke="#111" stroke-width="1.4" stroke-linecap="butt"/>
<line x1="272.63" y1="188.01" x2="276.84" y2="188.01" stroke="#111" stroke-width="1.4" stroke-linecap="butt"/>
<circle cx="274.74" cy="186.32" r="1.9" fill="#111"/>
<line x1="287.06" y1="181.83" x2="287.06" y2="186.32" stroke="#111" stroke-width="1.6" stroke-linecap="butt"/>
<line x1="284.96" y1="181.83" x2="289.16" y2="181.83" stroke="#111" stroke-width="1.4" stroke-linecap="butt"/>
<line x1="284.96" y1="186.32" x2="289.16" y2="186.32" stroke="#111" stroke-width="1.4" stroke-linecap="butt"/>
<circle cx="287.06" cy="184.08" r="1.9" fill="#111"/>
<line x1="299.38" y1="184.08" x2="299.38" y2="188.57" stroke="#111" stroke-width="1.6" stroke-linecap="butt"/>
<line x1="297.28" y1="184.08" x2="301.48" y2="184.08" stroke="#111" stroke-width="1.4" stroke-linecap="butt"/>
<line x1="297.28" y1="188.57" x2="301.48" y2="188.57" stroke="#111" stroke-width="1.4" stroke-linecap="butt"/>
<circle cx="299.38" cy="186.32" r="1.9" fill="#111"/>
<line x1="299.38" y1="186.89" x2="299.38" y2="190.26" stroke="#111" stroke-width="1.6" stroke-linecap="butt"/>
<line x1="297.28" y1="186.89" x2="301.48" y2="186.89" stroke="#111" stroke-width="1.4" stroke-linecap="butt"/>
<line x1="297.28" y1="190.26" x2="301.48" y2="190.26" stroke="#111" stroke-width="1.4" stroke-linecap="butt"/>
<circle cx="299.38" cy="188.57" r="1.9" fill="#111"/>
<line x1="311.70" y1="190.82" x2="311.70" y2="199.81" stroke="#111" stroke-width="1.6" stroke-linecap="butt"/>
<line x1="309.60" y1="190.82" x2="313.80" y2="190.82" stroke="#111" stroke-width="1.4" stroke-linecap="butt"/>
<line x1="309.60" y1="199.81" x2="313.80" y2="199.81" stroke="#111" stroke-width="1.4" stroke-linecap="butt"/>
<circle cx="311.70" cy="195.32" r="1.9" fill="#111"/>
<line x1="311.70" y1="198.69" x2="311.70" y2="205.43" stroke="#111" stroke-width="1.6" stroke-linecap="butt"/>
<line x1="309.60" y1="198.69" x2="313.80" y2="198.69" stroke="#111" stroke-width="1.4" stroke-linecap="butt"/>
<line x1="309.60" y1="205.43" x2="313.80" y2="205.43" stroke="#111" stroke-width="1.4" stroke-linecap="butt"/>
<circle cx="311.70" cy="202.06" r="1.9" fill="#111"/>
<line x1="324.02" y1="208.80" x2="324.02" y2="217.80" stroke="#111" stroke-width="1.6" stroke-linecap="butt"/>
<line x1="321.92" y1="208.80" x2="326.12" y2="208.80" stroke="#111" stroke-width="1.4" stroke-linecap="butt"/>
<line x1="321.92" y1="217.80" x2="326.12" y2="217.80" stroke="#111" stroke-width="1.4" stroke-linecap="butt"/>
<circle cx="324.02" cy="213.30" r="1.9" fill="#111"/>
<line x1="324.02" y1="214.99" x2="324.02" y2="220.61" stroke="#111" stroke-width="1.6" stroke-linecap="butt"/>
<line x1="321.92" y1="214.99" x2="326.12" y2="214.99" stroke="#111" stroke-width="1.4" stroke-linecap="butt"/>
<line x1="321.92" y1="220.61" x2="326.12" y2="220.61" stroke="#111" stroke-width="1.4" stroke-linecap="butt"/>
<circle cx="324.02" cy="217.80" r="1.9" fill="#111"/>
<line x1="336.34" y1="233.53" x2="336.34" y2="236.90" stroke="#111" stroke-width="1.6" stroke-linecap="butt"/>
<line x1="334.24" y1="233.53" x2="338.44" y2="233.53" stroke="#111" stroke-width="1.4" stroke-linecap="butt"/>
<line x1="334.24" y1="236.90" x2="338.44" y2="236.90" stroke="#111" stroke-width="1.4" stroke-linecap="butt"/>
<circle cx="336.34" cy="235.22" r="1.9" fill="#111"/>
<line x1="336.34" y1="235.78" x2="336.34" y2="238.03" stroke="#111" stroke-width="1.6" stroke-linecap="butt"/>
<line x1="334.24" y1="235.78" x2="338.44" y2="235.78" stroke="#111" stroke-width="1.4" stroke-linecap="butt"/>
<line x1="334.24" y1="238.03" x2="338.44" y2="238.03" stroke="#111" stroke-width="1.4" stroke-linecap="butt"/>
<circle cx="336.34" cy="236.90" r="1.9" fill="#111"/>
<line x1="254.20" y1="152.90" x2="254.20" y2="245.60" stroke="#111" stroke-width="1.8" stroke-linecap="butt"/>
<line x1="253.30" y1="241.40" x2="381.41" y2="241.40" stroke="#111" stroke-width="1.8" stroke-linecap="butt"/>
<line x1="250.30" y1="241.40" x2="254.20" y2="241.40" stroke="#111" stroke-width="1.5" stroke-linecap="butt"/>
<text x="246.00" y="245.00" font-size="9.7" text-anchor="end" fill="#111">0</text>
<line x1="250.30" y1="213.30" x2="254.20" y2="213.30" stroke="#111" stroke-width="1.5" stroke-linecap="butt"/>
<text x="246.00" y="216.90" font-size="9.7" text-anchor="end" fill="#111">50</text>
<line x1="250.30" y1="185.20" x2="254.20" y2="185.20" stroke="#111" stroke-width="1.5" stroke-linecap="butt"/>
<text x="246.00" y="188.80" font-size="9.7" text-anchor="end" fill="#111">100</text>
<line x1="250.30" y1="157.10" x2="254.20" y2="157.10" stroke="#111" stroke-width="1.5" stroke-linecap="butt"/>
<text x="246.00" y="160.70" font-size="9.7" text-anchor="end" fill="#111">150</text>
<line x1="295.27" y1="241.40" x2="295.27" y2="245.60" stroke="#111" stroke-width="1.5" stroke-linecap="butt"/>
<text x="295.27" y="258.40" font-size="9.7" text-anchor="middle" fill="#111">1</text>
<line x1="336.34" y1="241.40" x2="336.34" y2="245.60" stroke="#111" stroke-width="1.5" stroke-linecap="butt"/>
<text x="336.34" y="258.40" font-size="9.7" text-anchor="middle" fill="#111">2</text>
<line x1="377.41" y1="241.40" x2="377.41" y2="245.60" stroke="#111" stroke-width="1.5" stroke-linecap="butt"/>
<text x="377.41" y="258.40" font-size="9.7" text-anchor="middle" fill="#111">3</text>
<text x="257.80" y="160.20" font-size="9.6" text-anchor="start" fill="#111" letter-spacing="0.2">P12-ICHIKAWA</text>
<text x="317.70" y="275.80" font-size="11.5" text-anchor="middle" fill="#111">log10 (nM)</text>
<line x1="380.50" y1="168.30" x2="390.50" y2="168.30" stroke="#1e2226" stroke-width="2.2" stroke-linecap="butt"/>
<ellipse cx="385.50" cy="168.30" rx="2.1" ry="1.8" fill="#0a0a0a"/>
<text x="394.10" y="171.70" font-size="9.6" text-anchor="start" fill="#111" letter-spacing="0.1">DMSO</text>
<line x1="380.50" y1="179.80" x2="390.50" y2="179.80" stroke="#7a1634" stroke-width="2.2" stroke-linecap="butt"/>
<ellipse cx="385.50" cy="179.80" rx="2.1" ry="1.8" fill="#0a0a0a"/>
<text x="394.10" y="183.20" font-size="9.6" text-anchor="start" fill="#111" letter-spacing="0.1">GANT61</text>
<text x="9.00" y="302.50" font-size="15.8" text-anchor="start" font-weight="bold" fill="#111" style="stroke-width:0px" textLength="10.4" lengthAdjust="spacingAndGlyphs">B</text>
<line x1="94.70" y1="424.46" x2="94.70" y2="435.68" stroke="#5250a0" stroke-width="1.3" stroke-linecap="butt"/>
<line x1="91.50" y1="424.46" x2="97.90" y2="424.46" stroke="#5250a0" stroke-width="1.4" stroke-linecap="butt"/>
<line x1="91.50" y1="435.68" x2="97.90" y2="435.68" stroke="#5250a0" stroke-width="1.4" stroke-linecap="butt"/>
<line x1="177.60" y1="437.00" x2="177.60" y2="443.60" stroke="#5250a0" stroke-width="1.3" stroke-linecap="butt"/>
<line x1="174.40" y1="437.00" x2="180.80" y2="437.00" stroke="#5250a0" stroke-width="1.4" stroke-linecap="butt"/>
<line x1="174.40" y1="443.60" x2="180.80" y2="443.60" stroke="#5250a0" stroke-width="1.4" stroke-linecap="butt"/>
<line x1="177.60" y1="393.77" x2="177.60" y2="423.80" stroke="#54488a" stroke-width="1.3" stroke-linecap="butt"/>
<line x1="174.40" y1="393.77" x2="180.80" y2="393.77" stroke="#54488a" stroke-width="1.4" stroke-linecap="butt"/>
<line x1="174.40" y1="423.80" x2="180.80" y2="423.80" stroke="#54488a" stroke-width="1.4" stroke-linecap="butt"/>
<line x1="94.70" y1="392.12" x2="94.70" y2="407.63" stroke="#ac2c48" stroke-width="1.3" stroke-linecap="butt"/>
<line x1="91.50" y1="392.12" x2="97.90" y2="392.12" stroke="#ac2c48" stroke-width="1.4" stroke-linecap="butt"/>
<line x1="91.50" y1="407.63" x2="97.90" y2="407.63" stroke="#ac2c48" stroke-width="1.4" stroke-linecap="butt"/>
<line x1="177.60" y1="424.13" x2="177.60" y2="437.00" stroke="#ac2c48" stroke-width="1.3" stroke-linecap="butt"/>
<line x1="174.40" y1="424.13" x2="180.80" y2="424.13" stroke="#ac2c48" stroke-width="1.4" stroke-linecap="butt"/>
<line x1="174.40" y1="437.00" x2="180.80" y2="437.00" stroke="#ac2c48" stroke-width="1.4" stroke-linecap="butt"/>
<line x1="94.70" y1="386.18" x2="94.70" y2="396.74" stroke="#a81e38" stroke-width="1.3" stroke-linecap="butt"/>
<line x1="91.50" y1="386.18" x2="97.90" y2="386.18" stroke="#a81e38" stroke-width="1.4" stroke-linecap="butt"/>
<line x1="91.50" y1="396.74" x2="97.90" y2="396.74" stroke="#a81e38" stroke-width="1.4" stroke-linecap="butt"/>
<line x1="94.70" y1="343.94" x2="94.70" y2="361.76" stroke="#85202f" stroke-width="1.3" stroke-linecap="butt"/>
<line x1="91.50" y1="343.94" x2="97.90" y2="343.94" stroke="#85202f" stroke-width="1.4" stroke-linecap="butt"/>
<line x1="91.50" y1="361.76" x2="97.90" y2="361.76" stroke="#85202f" stroke-width="1.4" stroke-linecap="butt"/>
<line x1="177.60" y1="410.60" x2="177.60" y2="417.20" stroke="#85202f" stroke-width="1.3" stroke-linecap="butt"/>
<line x1="174.40" y1="410.60" x2="180.80" y2="410.60" stroke="#85202f" stroke-width="1.4" stroke-linecap="butt"/>
<line x1="174.40" y1="417.20" x2="180.80" y2="417.20" stroke="#85202f" stroke-width="1.4" stroke-linecap="butt"/>
<line x1="94.70" y1="338.99" x2="94.70" y2="350.87" stroke="#94243a" stroke-width="1.3" stroke-linecap="butt"/>
<line x1="91.50" y1="338.99" x2="97.90" y2="338.99" stroke="#94243a" stroke-width="1.4" stroke-linecap="butt"/>
<line x1="91.50" y1="350.87" x2="97.90" y2="350.87" stroke="#94243a" stroke-width="1.4" stroke-linecap="butt"/>
<line x1="177.60" y1="402.35" x2="177.60" y2="413.90" stroke="#94243a" stroke-width="1.3" stroke-linecap="butt"/>
<line x1="174.40" y1="402.35" x2="180.80" y2="402.35" stroke="#94243a" stroke-width="1.4" stroke-linecap="butt"/>
<line x1="174.40" y1="413.90" x2="180.80" y2="413.90" stroke="#94243a" stroke-width="1.4" stroke-linecap="butt"/>
<line x1="94.70" y1="445.58" x2="177.60" y2="446.90" stroke="#3a96c4" stroke-width="1.7" stroke-linecap="butt"/>
<line x1="94.70" y1="430.73" x2="177.60" y2="438.65" stroke="#5250a0" stroke-width="1.7" stroke-linecap="butt"/>
<line x1="94.70" y1="420.17" x2="177.60" y2="416.87" stroke="#54488a" stroke-width="1.7" stroke-linecap="butt"/>
<line x1="94.70" y1="411.59" x2="177.60" y2="440.96" stroke="#4a1020" stroke-width="1.7" stroke-linecap="butt"/>
<line x1="94.70" y1="402.68" x2="177.60" y2="430.73" stroke="#ac2c48" stroke-width="1.7" stroke-linecap="butt"/>
<line x1="94.70" y1="396.74" x2="177.60" y2="437.99" stroke="#a81e38" stroke-width="1.7" stroke-linecap="butt"/>
<line x1="94.70" y1="361.76" x2="177.60" y2="416.54" stroke="#85202f" stroke-width="1.7" stroke-linecap="butt"/>
<line x1="94.70" y1="350.87" x2="177.60" y2="413.90" stroke="#94243a" stroke-width="1.7" stroke-linecap="butt"/>
<rect x="91.80" y="442.68" width="5.80" height="5.80" stroke="#3a96c4" stroke-width="1.4" fill="#d3e7f2"/>
<rect x="174.70" y="444.00" width="5.80" height="5.80" stroke="#3a96c4" stroke-width="1.4" fill="#d3e7f2"/>
<path d="M94.70,433.92L97.89,428.41L91.51,428.41Z" stroke="#5250a0" stroke-width="1.4" fill="#d8d8ea"/>
<path d="M177.60,441.84L180.79,436.33L174.41,436.33Z" stroke="#5250a0" stroke-width="1.4" fill="#d8d8ea"/>
<rect x="91.80" y="417.27" width="5.80" height="5.80" stroke="#54488a" stroke-width="1.4" fill="#d9d6e5"/>
<rect x="174.70" y="413.97" width="5.80" height="5.80" stroke="#54488a" stroke-width="1.4" fill="#d9d6e5"/>
<path d="M94.70,408.69L97.60,411.59L94.70,414.49L91.80,411.59Z" stroke="#4a1020" stroke-width="1.4" fill="#d7cacd"/>
<path d="M177.60,438.06L180.50,440.96L177.60,443.86L174.70,440.96Z" stroke="#4a1020" stroke-width="1.4" fill="#d7cacd"/>
<circle cx="94.70" cy="402.68" r="2.90" stroke="#ac2c48" stroke-width="1.4" fill="#ecd0d6"/>
<circle cx="177.60" cy="430.73" r="2.90" stroke="#ac2c48" stroke-width="1.4" fill="#ecd0d6"/>
<path d="M94.70,393.84L94.70,399.64M97.21,395.29L92.19,398.19M97.21,398.19L92.19,395.29M91.80,396.74L97.60,396.74" stroke="#a81e38" stroke-width="1.68" fill="none"/>
<path d="M177.60,435.09L177.60,440.89M180.11,436.54L175.09,439.44M180.11,439.44L175.09,436.54M174.70,437.99L180.50,437.99" stroke="#a81e38" stroke-width="1.68" fill="none"/>
<path d="M94.70,358.57L97.89,364.08L91.51,364.08Z" stroke="#85202f" stroke-width="1.4" fill="#e4cdd1"/>
<path d="M177.60,413.35L180.79,418.86L174.41,418.86Z" stroke="#85202f" stroke-width="1.4" fill="#e4cdd1"/>
<path d="M91.80,347.97L97.60,353.77M97.60,347.97L91.80,353.77M91.80,350.87L97.60,350.87" stroke="#94243a" stroke-width="1.4" fill="none"/>
<path d="M174.70,411.00L180.50,416.80M180.50,411.00L174.70,416.80M174.70,413.90L180.50,413.90" stroke="#94243a" stroke-width="1.4" fill="none"/>
<line x1="53.50" y1="321.00" x2="53.50" y2="457.70" stroke="#111" stroke-width="1.8" stroke-linecap="butt"/>
<line x1="52.60" y1="456.80" x2="218.80" y2="456.80" stroke="#111" stroke-width="1.8" stroke-linecap="butt"/>
<line x1="49.60" y1="456.80" x2="53.50" y2="456.80" stroke="#111" stroke-width="1.5" stroke-linecap="butt"/>
<text x="45.50" y="460.20" font-size="10" text-anchor="end" fill="#111">0</text>
<line x1="49.60" y1="423.80" x2="53.50" y2="423.80" stroke="#111" stroke-width="1.5" stroke-linecap="butt"/>
<text x="45.50" y="427.20" font-size="10" text-anchor="end" fill="#111">100</text>
<line x1="49.60" y1="390.80" x2="53.50" y2="390.80" stroke="#111" stroke-width="1.5" stroke-linecap="butt"/>
<text x="45.50" y="394.20" font-size="10" text-anchor="end" fill="#111">200</text>
<line x1="49.60" y1="357.80" x2="53.50" y2="357.80" stroke="#111" stroke-width="1.5" stroke-linecap="butt"/>
<text x="45.50" y="361.20" font-size="10" text-anchor="end" fill="#111">300</text>
<line x1="49.60" y1="324.80" x2="53.50" y2="324.80" stroke="#111" stroke-width="1.5" stroke-linecap="butt"/>
<text x="45.50" y="328.20" font-size="10" text-anchor="end" fill="#111">400</text>
<line x1="94.70" y1="456.80" x2="94.70" y2="460.80" stroke="#111" stroke-width="1.5" stroke-linecap="butt"/>
<line x1="177.60" y1="456.80" x2="177.60" y2="460.80" stroke="#111" stroke-width="1.5" stroke-linecap="butt"/>
<text x="94.70" y="473.80" font-size="10.2" text-anchor="middle" fill="#111" letter-spacing="0.15">DMSO</text>
<text x="177.60" y="473.80" font-size="10.2" text-anchor="middle" fill="#111" letter-spacing="0.15">GANT61</text>
<text x="29.50" y="314.40" font-size="9.4" text-anchor="start" fill="#111" letter-spacing="0.12">IC50 (nM)</text>
<text x="136.20" y="313.80" font-size="12.3" text-anchor="middle" fill="#111">ARA-C</text>
<line x1="284.60" y1="444.56" x2="284.60" y2="447.19" stroke="#3a96c4" stroke-width="1.3" stroke-linecap="butt"/>
<line x1="281.40" y1="444.56" x2="287.80" y2="444.56" stroke="#3a96c4" stroke-width="1.4" stroke-linecap="butt"/>
<line x1="281.40" y1="447.19" x2="287.80" y2="447.19" stroke="#3a96c4" stroke-width="1.4" stroke-linecap="butt"/>
<line x1="366.90" y1="444.56" x2="366.90" y2="447.45" stroke="#3a96c4" stroke-width="1.3" stroke-linecap="butt"/>
<line x1="363.70" y1="444.56" x2="370.10" y2="444.56" stroke="#3a96c4" stroke-width="1.4" stroke-linecap="butt"/>
<line x1="363.70" y1="447.45" x2="370.10" y2="447.45" stroke="#3a96c4" stroke-width="1.4" stroke-linecap="butt"/>
<line x1="284.60" y1="437.98" x2="284.60" y2="444.56" stroke="#5250a0" stroke-width="1.3" stroke-linecap="butt"/>
<line x1="281.40" y1="437.98" x2="287.80" y2="437.98" stroke="#5250a0" stroke-width="1.4" stroke-linecap="butt"/>
<line x1="281.40" y1="444.56" x2="287.80" y2="444.56" stroke="#5250a0" stroke-width="1.4" stroke-linecap="butt"/>
<line x1="366.90" y1="441.66" x2="366.90" y2="445.87" stroke="#5250a0" stroke-width="1.3" stroke-linecap="butt"/>
<line x1="363.70" y1="441.66" x2="370.10" y2="441.66" stroke="#5250a0" stroke-width="1.4" stroke-linecap="butt"/>
<line x1="363.70" y1="445.87" x2="370.10" y2="445.87" stroke="#5250a0" stroke-width="1.4" stroke-linecap="butt"/>
<line x1="284.60" y1="348.22" x2="284.60" y2="407.97" stroke="#a81e38" stroke-width="1.3" stroke-linecap="butt"/>
<line x1="281.40" y1="348.22" x2="287.80" y2="348.22" stroke="#a81e38" stroke-width="1.4" stroke-linecap="butt"/>
<line x1="281.40" y1="407.97" x2="287.80" y2="407.97" stroke="#a81e38" stroke-width="1.4" stroke-linecap="butt"/>
<line x1="284.60" y1="331.64" x2="284.60" y2="382.97" stroke="#54488a" stroke-width="1.3" stroke-linecap="butt"/>
<line x1="281.40" y1="331.64" x2="287.80" y2="331.64" stroke="#54488a" stroke-width="1.4" stroke-linecap="butt"/>
<line x1="281.40" y1="382.97" x2="287.80" y2="382.97" stroke="#54488a" stroke-width="1.4" stroke-linecap="butt"/>
<line x1="366.90" y1="370.07" x2="366.90" y2="398.76" stroke="#54488a" stroke-width="1.3" stroke-linecap="butt"/>
<line x1="363.70" y1="370.07" x2="370.10" y2="370.07" stroke="#54488a" stroke-width="1.4" stroke-linecap="butt"/>
<line x1="363.70" y1="398.76" x2="370.10" y2="398.76" stroke="#54488a" stroke-width="1.4" stroke-linecap="butt"/>
<line x1="284.60" y1="447.19" x2="366.90" y2="447.45" stroke="#3a96c4" stroke-width="1.7" stroke-linecap="butt"/>
<line x1="284.60" y1="444.56" x2="366.90" y2="445.87" stroke="#5250a0" stroke-width="1.7" stroke-linecap="butt"/>
<line x1="284.60" y1="380.07" x2="366.90" y2="427.45" stroke="#94243a" stroke-width="1.7" stroke-linecap="butt"/>
<line x1="284.60" y1="389.02" x2="366.90" y2="409.02" stroke="#ac2c48" stroke-width="1.7" stroke-linecap="butt"/>
<line x1="284.60" y1="387.44" x2="366.90" y2="430.08" stroke="#85202f" stroke-width="1.7" stroke-linecap="butt"/>
<line x1="284.60" y1="407.97" x2="366.90" y2="434.82" stroke="#a81e38" stroke-width="1.7" stroke-linecap="butt"/>
<line x1="284.60" y1="382.97" x2="366.90" y2="398.76" stroke="#54488a" stroke-width="1.7" stroke-linecap="butt"/>
<line x1="284.60" y1="370.86" x2="366.90" y2="422.71" stroke="#4a1020" stroke-width="1.7" stroke-linecap="butt"/>
<rect x="281.70" y="444.29" width="5.80" height="5.80" stroke="#3a96c4" stroke-width="1.4" fill="#d3e7f2"/>
<rect x="364.00" y="444.55" width="5.80" height="5.80" stroke="#3a96c4" stroke-width="1.4" fill="#d3e7f2"/>
<path d="M284.60,447.75L287.79,442.24L281.41,442.24Z" stroke="#5250a0" stroke-width="1.4" fill="#d8d8ea"/>
<path d="M366.90,449.06L370.09,443.55L363.71,443.55Z" stroke="#5250a0" stroke-width="1.4" fill="#d8d8ea"/>
<path d="M281.70,377.17L287.50,382.97M287.50,377.17L281.70,382.97M281.70,380.07L287.50,380.07" stroke="#94243a" stroke-width="1.4" fill="none"/>
<path d="M364.00,424.55L369.80,430.35M369.80,424.55L364.00,430.35M364.00,427.45L369.80,427.45" stroke="#94243a" stroke-width="1.4" fill="none"/>
<circle cx="284.60" cy="389.02" r="2.90" stroke="#ac2c48" stroke-width="1.4" fill="#ecd0d6"/>
<circle cx="366.90" cy="409.02" r="2.90" stroke="#ac2c48" stroke-width="1.4" fill="#ecd0d6"/>
<path d="M284.60,384.25L287.79,389.76L281.41,389.76Z" stroke="#85202f" stroke-width="1.4" fill="#e4cdd1"/>
<path d="M366.90,426.89L370.09,432.40L363.71,432.40Z" stroke="#85202f" stroke-width="1.4" fill="#e4cdd1"/>
<path d="M284.60,405.07L284.60,410.87M287.11,406.52L282.09,409.42M287.11,409.42L282.09,406.52M281.70,407.97L287.50,407.97" stroke="#a81e38" stroke-width="1.68" fill="none"/>
<path d="M366.90,431.92L366.90,437.72M369.41,433.37L364.39,436.27M369.41,436.27L364.39,433.37M364.00,434.82L369.80,434.82" stroke="#a81e38" stroke-width="1.68" fill="none"/>
<rect x="281.70" y="380.07" width="5.80" height="5.80" stroke="#54488a" stroke-width="1.4" fill="#d9d6e5"/>
<rect x="364.00" y="395.86" width="5.80" height="5.80" stroke="#54488a" stroke-width="1.4" fill="#d9d6e5"/>
<path d="M284.60,367.96L287.50,370.86L284.60,373.76L281.70,370.86Z" stroke="#4a1020" stroke-width="1.4" fill="#d7cacd"/>
<path d="M366.90,419.81L369.80,422.71L366.90,425.61L364.00,422.71Z" stroke="#4a1020" stroke-width="1.4" fill="#d7cacd"/>
<line x1="242.80" y1="321.00" x2="242.80" y2="457.30" stroke="#111" stroke-width="1.8" stroke-linecap="butt"/>
<line x1="241.90" y1="456.40" x2="407.70" y2="456.40" stroke="#111" stroke-width="1.8" stroke-linecap="butt"/>
<line x1="238.90" y1="456.40" x2="242.80" y2="456.40" stroke="#111" stroke-width="1.5" stroke-linecap="butt"/>
<text x="234.80" y="459.80" font-size="10" text-anchor="end" fill="#111">0</text>
<line x1="238.90" y1="430.08" x2="242.80" y2="430.08" stroke="#111" stroke-width="1.5" stroke-linecap="butt"/>
<text x="234.80" y="433.48" font-size="10" text-anchor="end" fill="#111">100</text>
<line x1="238.90" y1="403.76" x2="242.80" y2="403.76" stroke="#111" stroke-width="1.5" stroke-linecap="butt"/>
<text x="234.80" y="407.16" font-size="10" text-anchor="end" fill="#111">200</text>
<line x1="238.90" y1="377.44" x2="242.80" y2="377.44" stroke="#111" stroke-width="1.5" stroke-linecap="butt"/>
<text x="234.80" y="380.84" font-size="10" text-anchor="end" fill="#111">300</text>
<line x1="238.90" y1="351.12" x2="242.80" y2="351.12" stroke="#111" stroke-width="1.5" stroke-linecap="butt"/>
<text x="234.80" y="354.52" font-size="10" text-anchor="end" fill="#111">400</text>
<line x1="238.90" y1="324.80" x2="242.80" y2="324.80" stroke="#111" stroke-width="1.5" stroke-linecap="butt"/>
<text x="234.80" y="328.20" font-size="10" text-anchor="end" fill="#111">500</text>
<line x1="284.60" y1="456.40" x2="284.60" y2="460.40" stroke="#111" stroke-width="1.5" stroke-linecap="butt"/>
<line x1="366.90" y1="456.40" x2="366.90" y2="460.40" stroke="#111" stroke-width="1.5" stroke-linecap="butt"/>
<text x="284.60" y="473.40" font-size="10.2" text-anchor="middle" fill="#111" letter-spacing="0.15">DMSO</text>
<text x="366.90" y="473.40" font-size="10.2" text-anchor="middle" fill="#111" letter-spacing="0.15">GANT61</text>
<text x="214.00" y="312.90" font-size="9.4" text-anchor="start" fill="#111" letter-spacing="0.12">IC50 (nM)</text>
<text x="325.60" y="313.50" font-size="12.5" text-anchor="middle" fill="#111">Doxorubicin</text>
<path d="M417.30,331.91L420.71,326.02L413.89,326.02Z" stroke="#5250a0" stroke-width="1.6" fill="#c2c1dd"/>
<line x1="411.80" y1="328.50" x2="422.80" y2="328.50" stroke="#5250a0" stroke-width="1.5" stroke-linecap="butt"/>
<text x="425.30" y="331.90" font-size="9.6" text-anchor="start" fill="#111" letter-spacing="0.12">SUPT1</text>
<rect x="414.20" y="340.18" width="6.20" height="6.20" stroke="#3a96c4" stroke-width="1.6" fill="#badaea"/>
<line x1="411.80" y1="343.28" x2="422.80" y2="343.28" stroke="#3a96c4" stroke-width="1.5" stroke-linecap="butt"/>
<text x="425.30" y="346.68" font-size="9.6" text-anchor="start" fill="#111" letter-spacing="0.12">P12-ICHIKAWA</text>
<rect x="414.20" y="354.96" width="6.20" height="6.20" stroke="#54488a" stroke-width="1.6" fill="#c3bed6"/>
<line x1="411.80" y1="358.06" x2="422.80" y2="358.06" stroke="#54488a" stroke-width="1.5" stroke-linecap="butt"/>
<text x="425.30" y="361.46" font-size="9.6" text-anchor="start" fill="#111" letter-spacing="0.12">DND41</text>
<circle cx="417.30" cy="372.84" r="3.10" stroke="#ac2c48" stroke-width="1.6" fill="#e1b5be"/>
<line x1="411.80" y1="372.84" x2="422.80" y2="372.84" stroke="#ac2c48" stroke-width="1.5" stroke-linecap="butt"/>
<text x="425.30" y="376.24" font-size="9.6" text-anchor="start" fill="#111" letter-spacing="0.12">ALL-SIL</text>
<path d="M417.30,384.21L420.71,390.10L413.89,390.10Z" stroke="#85202f" stroke-width="1.6" fill="#d4b0b6"/>
<line x1="411.80" y1="387.62" x2="422.80" y2="387.62" stroke="#85202f" stroke-width="1.5" stroke-linecap="butt"/>
<text x="425.30" y="391.02" font-size="9.6" text-anchor="start" fill="#111" letter-spacing="0.12">JURKAT</text>
<path d="M417.30,399.30L420.40,402.40L417.30,405.50L414.20,402.40Z" stroke="#4a1020" stroke-width="1.6" fill="#bfabb0"/>
<line x1="411.80" y1="402.40" x2="422.80" y2="402.40" stroke="#4a1020" stroke-width="1.5" stroke-linecap="butt"/>
<text x="425.30" y="405.80" font-size="9.6" text-anchor="start" fill="#111" letter-spacing="0.12">CCRF-CEM</text>
<path d="M417.30,414.08L417.30,420.28M419.98,415.63L414.62,418.73M419.98,418.73L414.62,415.63M414.20,417.18L420.40,417.18" stroke="#a81e38" stroke-width="1.92" fill="none"/>
<line x1="411.80" y1="417.18" x2="422.80" y2="417.18" stroke="#a81e38" stroke-width="1.5" stroke-linecap="butt"/>
<text x="425.30" y="420.58" font-size="9.6" text-anchor="start" fill="#111" letter-spacing="0.12">HPB-ALL</text>
<path d="M414.20,428.86L420.40,435.06M420.40,428.86L414.20,435.06M414.20,431.96L420.40,431.96" stroke="#94243a" stroke-width="1.6" fill="none"/>
<line x1="411.80" y1="431.96" x2="422.80" y2="431.96" stroke="#94243a" stroke-width="1.5" stroke-linecap="butt"/>
<text x="425.30" y="435.36" font-size="9.6" text-anchor="start" fill="#111" letter-spacing="0.12">MOLT4</text>
<text x="9.00" y="769.40" font-size="15.8" text-anchor="start" font-weight="bold" fill="#111" style="stroke-width:0px" textLength="10.6" lengthAdjust="spacingAndGlyphs">D</text>
<line x1="96.60" y1="880.45" x2="96.60" y2="895.59" stroke="#5a82c4" stroke-width="1.3" stroke-linecap="butt"/>
<line x1="91.60" y1="880.45" x2="101.60" y2="880.45" stroke="#5a82c4" stroke-width="1.4" stroke-linecap="butt"/>
<line x1="91.60" y1="895.59" x2="101.60" y2="895.59" stroke="#5a82c4" stroke-width="1.4" stroke-linecap="butt"/>
<line x1="96.60" y1="871.92" x2="96.60" y2="896.97" stroke="#3d3a85" stroke-width="1.3" stroke-linecap="butt"/>
<line x1="91.60" y1="871.92" x2="101.60" y2="871.92" stroke="#3d3a85" stroke-width="1.4" stroke-linecap="butt"/>
<line x1="91.60" y1="896.97" x2="101.60" y2="896.97" stroke="#3d3a85" stroke-width="1.4" stroke-linecap="butt"/>
<line x1="180.30" y1="887.34" x2="180.30" y2="892.84" stroke="#3d3a85" stroke-width="1.3" stroke-linecap="butt"/>
<line x1="175.30" y1="887.34" x2="185.30" y2="887.34" stroke="#3d3a85" stroke-width="1.4" stroke-linecap="butt"/>
<line x1="175.30" y1="892.84" x2="185.30" y2="892.84" stroke="#3d3a85" stroke-width="1.4" stroke-linecap="butt"/>
<line x1="96.60" y1="857.05" x2="96.60" y2="862.56" stroke="#8a2238" stroke-width="1.3" stroke-linecap="butt"/>
<line x1="91.60" y1="857.05" x2="101.60" y2="857.05" stroke="#8a2238" stroke-width="1.4" stroke-linecap="butt"/>
<line x1="91.60" y1="862.56" x2="101.60" y2="862.56" stroke="#8a2238" stroke-width="1.4" stroke-linecap="butt"/>
<line x1="180.30" y1="873.57" x2="180.30" y2="880.45" stroke="#8a2238" stroke-width="1.3" stroke-linecap="butt"/>
<line x1="175.30" y1="873.57" x2="185.30" y2="873.57" stroke="#8a2238" stroke-width="1.4" stroke-linecap="butt"/>
<line x1="175.30" y1="880.45" x2="185.30" y2="880.45" stroke="#8a2238" stroke-width="1.4" stroke-linecap="butt"/>
<line x1="96.60" y1="799.24" x2="96.60" y2="815.76" stroke="#8a3545" stroke-width="1.3" stroke-linecap="butt"/>
<line x1="91.60" y1="799.24" x2="101.60" y2="799.24" stroke="#8a3545" stroke-width="1.4" stroke-linecap="butt"/>
<line x1="91.60" y1="815.76" x2="101.60" y2="815.76" stroke="#8a3545" stroke-width="1.4" stroke-linecap="butt"/>
<line x1="180.30" y1="841.64" x2="180.30" y2="872.19" stroke="#8a3545" stroke-width="1.3" stroke-linecap="butt"/>
<line x1="175.30" y1="841.64" x2="185.30" y2="841.64" stroke="#8a3545" stroke-width="1.4" stroke-linecap="butt"/>
<line x1="175.30" y1="872.19" x2="185.30" y2="872.19" stroke="#8a3545" stroke-width="1.4" stroke-linecap="butt"/>
<line x1="96.60" y1="888.16" x2="180.30" y2="890.64" stroke="#111" stroke-width="2.0" stroke-linecap="butt"/>
<line x1="96.60" y1="885.96" x2="180.30" y2="890.09" stroke="#111" stroke-width="2.0" stroke-linecap="butt"/>
<line x1="96.60" y1="859.81" x2="180.30" y2="877.70" stroke="#111" stroke-width="2.0" stroke-linecap="butt"/>
<line x1="96.60" y1="807.22" x2="180.30" y2="857.33" stroke="#111" stroke-width="2.0" stroke-linecap="butt"/>
<rect x="92.40" y="883.96" width="8.40" height="8.40" stroke="#5a82c4" stroke-width="1.3" fill="#fff"/>
<rect x="176.10" y="886.44" width="8.40" height="8.40" stroke="#5a82c4" stroke-width="1.3" fill="#fff"/>
<path d="M96.60,890.58L101.22,882.60L91.98,882.60Z" stroke="#3d3a85" stroke-width="1.3" fill="#fff"/>
<path d="M180.30,894.71L184.92,886.73L175.68,886.73Z" stroke="#3d3a85" stroke-width="1.3" fill="#fff"/>
<circle cx="96.60" cy="859.81" r="4.20" stroke="#8a2238" stroke-width="1.3" fill="#fff"/>
<circle cx="180.30" cy="877.70" r="4.20" stroke="#8a2238" stroke-width="1.3" fill="#fff"/>
<path d="M92.40,802.18L100.80,812.26M100.80,802.18L92.40,812.26" stroke="#8a3545" stroke-width="1.3" fill="none"/>
<path d="M176.10,852.29L184.50,862.37M184.50,852.29L176.10,862.37" stroke="#8a3545" stroke-width="1.3" fill="none"/>
<line x1="56.20" y1="787.18" x2="56.20" y2="902.00" stroke="#111" stroke-width="1.8" stroke-linecap="butt"/>
<line x1="55.30" y1="901.10" x2="220.00" y2="901.10" stroke="#111" stroke-width="1.8" stroke-linecap="butt"/>
<line x1="52.30" y1="901.10" x2="56.20" y2="901.10" stroke="#111" stroke-width="1.5" stroke-linecap="butt"/>
<text x="48.20" y="904.50" font-size="10" text-anchor="end" fill="#111">0</text>
<line x1="52.30" y1="873.57" x2="56.20" y2="873.57" stroke="#111" stroke-width="1.5" stroke-linecap="butt"/>
<text x="48.20" y="876.97" font-size="10" text-anchor="end" fill="#111">100</text>
<line x1="52.30" y1="846.04" x2="56.20" y2="846.04" stroke="#111" stroke-width="1.5" stroke-linecap="butt"/>
<text x="48.20" y="849.44" font-size="10" text-anchor="end" fill="#111">200</text>
<line x1="52.30" y1="818.51" x2="56.20" y2="818.51" stroke="#111" stroke-width="1.5" stroke-linecap="butt"/>
<text x="48.20" y="821.91" font-size="10" text-anchor="end" fill="#111">300</text>
<line x1="52.30" y1="790.98" x2="56.20" y2="790.98" stroke="#111" stroke-width="1.5" stroke-linecap="butt"/>
<text x="48.20" y="794.38" font-size="10" text-anchor="end" fill="#111">400</text>
<line x1="96.60" y1="901.10" x2="96.60" y2="905.10" stroke="#111" stroke-width="1.5" stroke-linecap="butt"/>
<line x1="180.30" y1="901.10" x2="180.30" y2="905.10" stroke="#111" stroke-width="1.5" stroke-linecap="butt"/>
<text x="96.60" y="918.10" font-size="10.2" text-anchor="middle" fill="#111" letter-spacing="0.15">DMSO</text>
<text x="180.30" y="918.10" font-size="10.2" text-anchor="middle" fill="#111" letter-spacing="0.15">GDC-0449</text>
<text x="29.00" y="782.30" font-size="9.4" text-anchor="start" fill="#111" letter-spacing="0.12">IC50 (nM)</text>
<text x="133.00" y="776.10" font-size="10.4" text-anchor="middle" fill="#111">ARA-C</text>
<line x1="300.90" y1="886.42" x2="300.90" y2="897.32" stroke="#3d3a85" stroke-width="1.3" stroke-linecap="butt"/>
<line x1="295.90" y1="886.42" x2="305.90" y2="886.42" stroke="#3d3a85" stroke-width="1.4" stroke-linecap="butt"/>
<line x1="295.90" y1="897.32" x2="305.90" y2="897.32" stroke="#3d3a85" stroke-width="1.4" stroke-linecap="butt"/>
<line x1="383.70" y1="889.15" x2="383.70" y2="895.95" stroke="#3d3a85" stroke-width="1.3" stroke-linecap="butt"/>
<line x1="378.70" y1="889.15" x2="388.70" y2="889.15" stroke="#3d3a85" stroke-width="1.4" stroke-linecap="butt"/>
<line x1="378.70" y1="895.95" x2="388.70" y2="895.95" stroke="#3d3a85" stroke-width="1.4" stroke-linecap="butt"/>
<line x1="300.90" y1="876.89" x2="300.90" y2="885.06" stroke="#5a82c4" stroke-width="1.3" stroke-linecap="butt"/>
<line x1="295.90" y1="876.89" x2="305.90" y2="876.89" stroke="#5a82c4" stroke-width="1.4" stroke-linecap="butt"/>
<line x1="295.90" y1="885.06" x2="305.90" y2="885.06" stroke="#5a82c4" stroke-width="1.4" stroke-linecap="butt"/>
<line x1="383.70" y1="880.98" x2="383.70" y2="886.42" stroke="#5a82c4" stroke-width="1.3" stroke-linecap="butt"/>
<line x1="378.70" y1="880.98" x2="388.70" y2="880.98" stroke="#5a82c4" stroke-width="1.4" stroke-linecap="butt"/>
<line x1="378.70" y1="886.42" x2="388.70" y2="886.42" stroke="#5a82c4" stroke-width="1.4" stroke-linecap="butt"/>
<line x1="300.90" y1="810.18" x2="300.90" y2="847.48" stroke="#8a2238" stroke-width="1.3" stroke-linecap="butt"/>
<line x1="295.90" y1="810.18" x2="305.90" y2="810.18" stroke="#8a2238" stroke-width="1.4" stroke-linecap="butt"/>
<line x1="295.90" y1="847.48" x2="305.90" y2="847.48" stroke="#8a2238" stroke-width="1.4" stroke-linecap="butt"/>
<line x1="383.70" y1="866.00" x2="383.70" y2="878.25" stroke="#8a2238" stroke-width="1.3" stroke-linecap="butt"/>
<line x1="378.70" y1="866.00" x2="388.70" y2="866.00" stroke="#8a2238" stroke-width="1.4" stroke-linecap="butt"/>
<line x1="378.70" y1="878.25" x2="388.70" y2="878.25" stroke="#8a2238" stroke-width="1.4" stroke-linecap="butt"/>
<line x1="300.90" y1="800.92" x2="300.90" y2="814.26" stroke="#8a3545" stroke-width="1.3" stroke-linecap="butt"/>
<line x1="295.90" y1="800.92" x2="305.90" y2="800.92" stroke="#8a3545" stroke-width="1.4" stroke-linecap="butt"/>
<line x1="295.90" y1="814.26" x2="305.90" y2="814.26" stroke="#8a3545" stroke-width="1.4" stroke-linecap="butt"/>
<line x1="383.70" y1="849.12" x2="383.70" y2="871.45" stroke="#8a3545" stroke-width="1.3" stroke-linecap="butt"/>
<line x1="378.70" y1="849.12" x2="388.70" y2="849.12" stroke="#8a3545" stroke-width="1.4" stroke-linecap="butt"/>
<line x1="378.70" y1="871.45" x2="388.70" y2="871.45" stroke="#8a3545" stroke-width="1.4" stroke-linecap="butt"/>
<line x1="300.90" y1="891.60" x2="383.70" y2="892.41" stroke="#111" stroke-width="2.0" stroke-linecap="butt"/>
<line x1="300.90" y1="880.16" x2="383.70" y2="883.97" stroke="#111" stroke-width="2.0" stroke-linecap="butt"/>
<line x1="300.90" y1="829.24" x2="383.70" y2="872.26" stroke="#111" stroke-width="2.0" stroke-linecap="butt"/>
<line x1="300.90" y1="807.46" x2="383.70" y2="860.55" stroke="#111" stroke-width="2.0" stroke-linecap="butt"/>
<path d="M300.90,896.22L305.52,888.24L296.28,888.24Z" stroke="#3d3a85" stroke-width="1.3" fill="#fff"/>
<path d="M383.70,897.03L388.32,889.05L379.08,889.05Z" stroke="#3d3a85" stroke-width="1.3" fill="#fff"/>
<rect x="296.70" y="875.96" width="8.40" height="8.40" stroke="#5a82c4" stroke-width="1.3" fill="#fff"/>
<rect x="379.50" y="879.77" width="8.40" height="8.40" stroke="#5a82c4" stroke-width="1.3" fill="#fff"/>
<circle cx="300.90" cy="829.24" r="4.20" stroke="#8a2238" stroke-width="1.3" fill="#fff"/>
<circle cx="383.70" cy="872.26" r="4.20" stroke="#8a2238" stroke-width="1.3" fill="#fff"/>
<path d="M300.90,802.84L305.52,810.82L296.28,810.82Z" stroke="#8a3545" stroke-width="1.3" fill="#fff"/>
<path d="M383.70,855.93L388.32,863.91L379.08,863.91Z" stroke="#8a3545" stroke-width="1.3" fill="#fff"/>
<line x1="261.20" y1="788.68" x2="261.20" y2="902.30" stroke="#111" stroke-width="1.8" stroke-linecap="butt"/>
<line x1="260.30" y1="901.40" x2="423.70" y2="901.40" stroke="#111" stroke-width="1.8" stroke-linecap="butt"/>
<line x1="257.30" y1="901.40" x2="261.20" y2="901.40" stroke="#111" stroke-width="1.5" stroke-linecap="butt"/>
<text x="253.20" y="904.80" font-size="10" text-anchor="end" fill="#111">0</text>
<line x1="257.30" y1="874.17" x2="261.20" y2="874.17" stroke="#111" stroke-width="1.5" stroke-linecap="butt"/>
<text x="253.20" y="877.57" font-size="10" text-anchor="end" fill="#111">100</text>
<line x1="257.30" y1="846.94" x2="261.20" y2="846.94" stroke="#111" stroke-width="1.5" stroke-linecap="butt"/>
<text x="253.20" y="850.34" font-size="10" text-anchor="end" fill="#111">200</text>
<line x1="257.30" y1="819.71" x2="261.20" y2="819.71" stroke="#111" stroke-width="1.5" stroke-linecap="butt"/>
<text x="253.20" y="823.11" font-size="10" text-anchor="end" fill="#111">300</text>
<line x1="257.30" y1="792.48" x2="261.20" y2="792.48" stroke="#111" stroke-width="1.5" stroke-linecap="butt"/>
<text x="253.20" y="795.88" font-size="10" text-anchor="end" fill="#111">400</text>
<line x1="300.90" y1="901.40" x2="300.90" y2="905.40" stroke="#111" stroke-width="1.5" stroke-linecap="butt"/>
<line x1="383.70" y1="901.40" x2="383.70" y2="905.40" stroke="#111" stroke-width="1.5" stroke-linecap="butt"/>
<text x="300.90" y="918.40" font-size="10.2" text-anchor="middle" fill="#111" letter-spacing="0.15">DMSO</text>
<text x="383.70" y="918.40" font-size="10.2" text-anchor="middle" fill="#111" letter-spacing="0.15">GDC-0449</text>
<text x="232.30" y="782.30" font-size="9.4" text-anchor="start" fill="#111" letter-spacing="0.12">IC50 (nM)</text>
<text x="333.10" y="776.20" font-size="10.4" text-anchor="middle" fill="#111">Doxorubicin</text>
<path d="M432.00,800.62L436.62,792.64L427.38,792.64Z" stroke="#3d3a85" stroke-width="1.3" fill="none"/>
<line x1="425.50" y1="796.00" x2="438.50" y2="796.00" stroke="#111" stroke-width="2" stroke-linecap="butt"/>
<text x="442.00" y="799.40" font-size="9.6" text-anchor="start" fill="#111" letter-spacing="0.12">SUPT1</text>
<rect x="427.80" y="808.40" width="8.40" height="8.40" stroke="#5a82c4" stroke-width="1.3" fill="none"/>
<line x1="425.50" y1="812.60" x2="438.50" y2="812.60" stroke="#111" stroke-width="2" stroke-linecap="butt"/>
<text x="442.00" y="816.00" font-size="9.6" text-anchor="start" fill="#111" letter-spacing="0.12">P12-ICHIKAWA</text>
<circle cx="432.00" cy="829.20" r="4.20" stroke="#8a2238" stroke-width="1.3" fill="none"/>
<line x1="425.50" y1="829.20" x2="438.50" y2="829.20" stroke="#111" stroke-width="2" stroke-linecap="butt"/>
<text x="442.00" y="832.60" font-size="9.6" text-anchor="start" fill="#111" letter-spacing="0.12">ALL-SIL</text>
<path d="M432.00,841.18L436.62,849.16L427.38,849.16Z" stroke="#8a3545" stroke-width="1.3" fill="none"/>
<line x1="425.50" y1="845.80" x2="438.50" y2="845.80" stroke="#111" stroke-width="2" stroke-linecap="butt"/>
<text x="442.00" y="849.20" font-size="9.6" text-anchor="start" fill="#111" letter-spacing="0.12">JURKAT</text>
<text x="9.00" y="499.40" font-size="15.8" text-anchor="start" font-weight="bold" fill="#111" style="stroke-width:0px" textLength="10.8" lengthAdjust="spacingAndGlyphs">C</text>
<path d="M86.30,538.78L87.13,538.81L87.97,538.84L88.80,538.87L89.63,538.91L90.47,538.94L91.30,538.98L92.14,539.02L92.97,539.06L93.80,539.11L94.64,539.15L95.47,539.20L96.30,539.25L97.14,539.30L97.97,539.36L98.81,539.42L99.64,539.48L100.47,539.54L101.31,539.61L102.14,539.68L102.97,539.75L103.81,539.83L104.64,539.91L105.48,539.99L106.31,540.08L107.14,540.17L107.98,540.27L108.81,540.37L109.64,540.47L110.48,540.58L111.31,540.69L112.15,540.81L112.98,540.94L113.81,541.07L114.65,541.20L115.48,541.34L116.31,541.49L117.15,541.65L117.98,541.81L118.82,541.97L119.65,542.15L120.48,542.33L121.32,542.52L122.15,542.72L122.98,542.92L123.82,543.14L124.65,543.36L125.49,543.59L126.32,543.83L127.15,544.08L127.99,544.34L128.82,544.60L129.65,544.88L130.49,545.17L131.32,545.47L132.16,545.78L132.99,546.10L133.82,546.43L134.66,546.77L135.49,547.13L136.32,547.49L137.16,547.87L137.99,548.25L138.83,548.65L139.66,549.06L140.49,549.49L141.33,549.92L142.16,550.37L142.99,550.83L143.83,551.30L144.66,551.78L145.50,552.27L146.33,552.77L147.16,553.28L148.00,553.81L148.83,554.34L149.66,554.89L150.50,555.44L151.33,556.00L152.16,556.57L153.00,557.15L153.83,557.74L154.67,558.33L155.50,558.93L156.33,559.54L157.17,560.15L158.00,560.77L158.83,561.39L159.67,562.01L160.50,562.63L161.34,563.26L162.17,563.89L163.00,564.52L163.84,565.14L164.67,565.77L165.50,566.40L166.34,567.02L167.17,567.64L168.01,568.25L168.84,568.86L169.67,569.47L170.51,570.07L171.34,570.66L172.17,571.24L173.01,571.82L173.84,572.39L174.68,572.95L175.51,573.50L176.34,574.04L177.18,574.57L178.01,575.10L178.84,575.61L179.68,576.11L180.51,576.60L181.35,577.07L182.18,577.54L183.01,578.00L183.85,578.44L184.68,578.87L185.51,579.29L186.35,579.70" stroke="#9e1c3c" stroke-width="2.3" fill="none" stroke-linejoin="round"/>
<path d="M86.30,538.28L87.13,538.29L87.97,538.30L88.80,538.30L89.63,538.31L90.47,538.32L91.30,538.33L92.14,538.34L92.97,538.35L93.80,538.36L94.64,538.38L95.47,538.39L96.30,538.40L97.14,538.42L97.97,538.43L98.81,538.45L99.64,538.47L100.47,538.48L101.31,538.50L102.14,538.52L102.97,538.55L103.81,538.57L104.64,538.59L105.48,538.62L106.31,538.65L107.14,538.68L107.98,538.71L108.81,538.74L109.64,538.77L110.48,538.81L111.31,538.85L112.15,538.89L112.98,538.93L113.81,538.98L114.65,539.03L115.48,539.08L116.31,539.13L117.15,539.19L117.98,539.25L118.82,539.31L119.65,539.38L120.48,539.45L121.32,539.53L122.15,539.61L122.98,539.69L123.82,539.78L124.65,539.88L125.49,539.98L126.32,540.08L127.15,540.19L127.99,540.31L128.82,540.43L129.65,540.56L130.49,540.70L131.32,540.84L132.16,541.00L132.99,541.16L133.82,541.33L134.66,541.50L135.49,541.69L136.32,541.89L137.16,542.10L137.99,542.31L138.83,542.54L139.66,542.78L140.49,543.03L141.33,543.30L142.16,543.58L142.99,543.87L143.83,544.17L144.66,544.49L145.50,544.82L146.33,545.16L147.16,545.52L148.00,545.90L148.83,546.29L149.66,546.70L150.50,547.13L151.33,547.57L152.16,548.03L153.00,548.50L153.83,548.99L154.67,549.50L155.50,550.03L156.33,550.57L157.17,551.13L158.00,551.71L158.83,552.30L159.67,552.91L160.50,553.53L161.34,554.17L162.17,554.83L163.00,555.49L163.84,556.17L164.67,556.87L165.50,557.57L166.34,558.28L167.17,559.01L168.01,559.74L168.84,560.48L169.67,561.23L170.51,561.98L171.34,562.73L172.17,563.49L173.01,564.25L173.84,565.00L174.68,565.76L175.51,566.51L176.34,567.26L177.18,568.01L178.01,568.74L178.84,569.47L179.68,570.20L180.51,570.91L181.35,571.61L182.18,572.30L183.01,572.97L183.85,573.64L184.68,574.29L185.51,574.92L186.35,575.54" stroke="#2c4a78" stroke-width="2.3" fill="none" stroke-linejoin="round"/>
<line x1="88.30" y1="563.60" x2="200.74" y2="563.60" stroke="#111" stroke-width="1.3" stroke-dasharray="1.4 1.5" stroke-linecap="butt"/>
<line x1="105.54" y1="532.86" x2="105.54" y2="541.34" stroke="#111" stroke-width="1.6" stroke-linecap="butt"/>
<line x1="103.44" y1="532.86" x2="107.64" y2="532.86" stroke="#111" stroke-width="1.4" stroke-linecap="butt"/>
<line x1="103.44" y1="541.34" x2="107.64" y2="541.34" stroke="#111" stroke-width="1.4" stroke-linecap="butt"/>
<circle cx="105.54" cy="537.10" r="1.9" fill="#111"/>
<line x1="105.54" y1="537.63" x2="105.54" y2="540.81" stroke="#111" stroke-width="1.6" stroke-linecap="butt"/>
<line x1="103.44" y1="537.63" x2="107.64" y2="537.63" stroke="#111" stroke-width="1.4" stroke-linecap="butt"/>
<line x1="103.44" y1="540.81" x2="107.64" y2="540.81" stroke="#111" stroke-width="1.4" stroke-linecap="butt"/>
<circle cx="105.54" cy="539.22" r="1.9" fill="#111"/>
<line x1="117.08" y1="535.51" x2="117.08" y2="541.87" stroke="#111" stroke-width="1.6" stroke-linecap="butt"/>
<line x1="114.98" y1="535.51" x2="119.18" y2="535.51" stroke="#111" stroke-width="1.4" stroke-linecap="butt"/>
<line x1="114.98" y1="541.87" x2="119.18" y2="541.87" stroke="#111" stroke-width="1.4" stroke-linecap="butt"/>
<circle cx="117.08" cy="538.69" r="1.9" fill="#111"/>
<line x1="117.08" y1="539.22" x2="117.08" y2="543.46" stroke="#111" stroke-width="1.6" stroke-linecap="butt"/>
<line x1="114.98" y1="539.22" x2="119.18" y2="539.22" stroke="#111" stroke-width="1.4" stroke-linecap="butt"/>
<line x1="114.98" y1="543.46" x2="119.18" y2="543.46" stroke="#111" stroke-width="1.4" stroke-linecap="butt"/>
<circle cx="117.08" cy="541.34" r="1.9" fill="#111"/>
<line x1="128.63" y1="536.04" x2="128.63" y2="540.28" stroke="#111" stroke-width="1.6" stroke-linecap="butt"/>
<line x1="126.53" y1="536.04" x2="130.73" y2="536.04" stroke="#111" stroke-width="1.4" stroke-linecap="butt"/>
<line x1="126.53" y1="540.28" x2="130.73" y2="540.28" stroke="#111" stroke-width="1.4" stroke-linecap="butt"/>
<circle cx="128.63" cy="538.16" r="1.9" fill="#111"/>
<line x1="128.63" y1="542.40" x2="128.63" y2="547.70" stroke="#111" stroke-width="1.6" stroke-linecap="butt"/>
<line x1="126.53" y1="542.40" x2="130.73" y2="542.40" stroke="#111" stroke-width="1.4" stroke-linecap="butt"/>
<line x1="126.53" y1="547.70" x2="130.73" y2="547.70" stroke="#111" stroke-width="1.4" stroke-linecap="butt"/>
<circle cx="128.63" cy="545.05" r="1.9" fill="#111"/>
<line x1="140.17" y1="532.86" x2="140.17" y2="541.34" stroke="#111" stroke-width="1.6" stroke-linecap="butt"/>
<line x1="138.07" y1="532.86" x2="142.27" y2="532.86" stroke="#111" stroke-width="1.4" stroke-linecap="butt"/>
<line x1="138.07" y1="541.34" x2="142.27" y2="541.34" stroke="#111" stroke-width="1.4" stroke-linecap="butt"/>
<circle cx="140.17" cy="537.10" r="1.9" fill="#111"/>
<line x1="140.17" y1="543.99" x2="140.17" y2="549.29" stroke="#111" stroke-width="1.6" stroke-linecap="butt"/>
<line x1="138.07" y1="543.99" x2="142.27" y2="543.99" stroke="#111" stroke-width="1.4" stroke-linecap="butt"/>
<line x1="138.07" y1="549.29" x2="142.27" y2="549.29" stroke="#111" stroke-width="1.4" stroke-linecap="butt"/>
<circle cx="140.17" cy="546.64" r="1.9" fill="#111"/>
<line x1="151.72" y1="542.93" x2="151.72" y2="550.35" stroke="#111" stroke-width="1.6" stroke-linecap="butt"/>
<line x1="149.62" y1="542.93" x2="153.82" y2="542.93" stroke="#111" stroke-width="1.4" stroke-linecap="butt"/>
<line x1="149.62" y1="550.35" x2="153.82" y2="550.35" stroke="#111" stroke-width="1.4" stroke-linecap="butt"/>
<circle cx="151.72" cy="546.64" r="1.9" fill="#111"/>
<line x1="151.72" y1="552.47" x2="151.72" y2="560.95" stroke="#111" stroke-width="1.6" stroke-linecap="butt"/>
<line x1="149.62" y1="552.47" x2="153.82" y2="552.47" stroke="#111" stroke-width="1.4" stroke-linecap="butt"/>
<line x1="149.62" y1="560.95" x2="153.82" y2="560.95" stroke="#111" stroke-width="1.4" stroke-linecap="butt"/>
<circle cx="151.72" cy="556.71" r="1.9" fill="#111"/>
<line x1="163.26" y1="557.77" x2="163.26" y2="565.19" stroke="#111" stroke-width="1.6" stroke-linecap="butt"/>
<line x1="161.16" y1="557.77" x2="165.36" y2="557.77" stroke="#111" stroke-width="1.4" stroke-linecap="butt"/>
<line x1="161.16" y1="565.19" x2="165.36" y2="565.19" stroke="#111" stroke-width="1.4" stroke-linecap="butt"/>
<circle cx="163.26" cy="561.48" r="1.9" fill="#111"/>
<line x1="163.26" y1="567.31" x2="163.26" y2="574.73" stroke="#111" stroke-width="1.6" stroke-linecap="butt"/>
<line x1="161.16" y1="567.31" x2="165.36" y2="567.31" stroke="#111" stroke-width="1.4" stroke-linecap="butt"/>
<line x1="161.16" y1="574.73" x2="165.36" y2="574.73" stroke="#111" stroke-width="1.4" stroke-linecap="butt"/>
<circle cx="163.26" cy="571.02" r="1.9" fill="#111"/>
<line x1="174.80" y1="568.37" x2="174.80" y2="573.67" stroke="#111" stroke-width="1.6" stroke-linecap="butt"/>
<line x1="172.70" y1="568.37" x2="176.90" y2="568.37" stroke="#111" stroke-width="1.4" stroke-linecap="butt"/>
<line x1="172.70" y1="573.67" x2="176.90" y2="573.67" stroke="#111" stroke-width="1.4" stroke-linecap="butt"/>
<circle cx="174.80" cy="571.02" r="1.9" fill="#111"/>
<line x1="174.80" y1="572.08" x2="174.80" y2="577.38" stroke="#111" stroke-width="1.6" stroke-linecap="butt"/>
<line x1="172.70" y1="572.08" x2="176.90" y2="572.08" stroke="#111" stroke-width="1.4" stroke-linecap="butt"/>
<line x1="172.70" y1="577.38" x2="176.90" y2="577.38" stroke="#111" stroke-width="1.4" stroke-linecap="butt"/>
<circle cx="174.80" cy="574.73" r="1.9" fill="#111"/>
<line x1="186.35" y1="571.55" x2="186.35" y2="575.79" stroke="#111" stroke-width="1.6" stroke-linecap="butt"/>
<line x1="184.25" y1="571.55" x2="188.45" y2="571.55" stroke="#111" stroke-width="1.4" stroke-linecap="butt"/>
<line x1="184.25" y1="575.79" x2="188.45" y2="575.79" stroke="#111" stroke-width="1.4" stroke-linecap="butt"/>
<circle cx="186.35" cy="573.67" r="1.9" fill="#111"/>
<line x1="186.35" y1="575.26" x2="186.35" y2="578.44" stroke="#111" stroke-width="1.6" stroke-linecap="butt"/>
<line x1="184.25" y1="575.26" x2="188.45" y2="575.26" stroke="#111" stroke-width="1.4" stroke-linecap="butt"/>
<line x1="184.25" y1="578.44" x2="188.45" y2="578.44" stroke="#111" stroke-width="1.4" stroke-linecap="butt"/>
<circle cx="186.35" cy="576.85" r="1.9" fill="#111"/>
<line x1="86.30" y1="506.40" x2="86.30" y2="594.30" stroke="#111" stroke-width="1.8" stroke-linecap="butt"/>
<line x1="85.40" y1="590.10" x2="205.74" y2="590.10" stroke="#111" stroke-width="1.8" stroke-linecap="butt"/>
<line x1="82.40" y1="590.10" x2="86.30" y2="590.10" stroke="#111" stroke-width="1.5" stroke-linecap="butt"/>
<text x="78.10" y="593.70" font-size="9.7" text-anchor="end" fill="#111">0</text>
<line x1="82.40" y1="563.60" x2="86.30" y2="563.60" stroke="#111" stroke-width="1.5" stroke-linecap="butt"/>
<text x="78.10" y="567.20" font-size="9.7" text-anchor="end" fill="#111">50</text>
<line x1="82.40" y1="537.10" x2="86.30" y2="537.10" stroke="#111" stroke-width="1.5" stroke-linecap="butt"/>
<text x="78.10" y="540.70" font-size="9.7" text-anchor="end" fill="#111">100</text>
<line x1="82.40" y1="510.60" x2="86.30" y2="510.60" stroke="#111" stroke-width="1.5" stroke-linecap="butt"/>
<text x="78.10" y="514.20" font-size="9.7" text-anchor="end" fill="#111">150</text>
<line x1="124.78" y1="590.10" x2="124.78" y2="594.30" stroke="#111" stroke-width="1.5" stroke-linecap="butt"/>
<text x="124.78" y="607.10" font-size="9.7" text-anchor="middle" fill="#111">1</text>
<line x1="163.26" y1="590.10" x2="163.26" y2="594.30" stroke="#111" stroke-width="1.5" stroke-linecap="butt"/>
<text x="163.26" y="607.10" font-size="9.7" text-anchor="middle" fill="#111">2</text>
<line x1="201.74" y1="590.10" x2="201.74" y2="594.30" stroke="#111" stroke-width="1.5" stroke-linecap="butt"/>
<text x="201.74" y="607.10" font-size="9.7" text-anchor="middle" fill="#111">3</text>
<text x="92.90" y="517.10" font-size="9.6" text-anchor="start" fill="#111" letter-spacing="0.2">ALL-SIL</text>
<text x="144.80" y="501.80" font-size="11.6" text-anchor="middle" fill="#111">ARA-C</text>
<text x="38.60" y="548.50" font-size="11.8" text-anchor="middle" fill="#111" transform="rotate(-90 38.6 548.5)" textLength="40.1" lengthAdjust="spacingAndGlyphs">Relative</text>
<text x="53.60" y="548.50" font-size="11.8" text-anchor="middle" fill="#111" transform="rotate(-90 53.6 548.5)" textLength="73.6" lengthAdjust="spacingAndGlyphs">proliferation %</text>
<path d="M249.00,538.40L249.84,538.40L250.68,538.40L251.51,538.40L252.35,538.40L253.19,538.40L254.03,538.40L254.86,538.40L255.70,538.40L256.54,538.40L257.38,538.40L258.22,538.40L259.05,538.40L259.89,538.40L260.73,538.40L261.57,538.40L262.41,538.40L263.24,538.40L264.08,538.40L264.92,538.40L265.76,538.40L266.59,538.40L267.43,538.40L268.27,538.40L269.11,538.40L269.95,538.40L270.78,538.40L271.62,538.40L272.46,538.40L273.30,538.40L274.14,538.40L274.97,538.40L275.81,538.40L276.65,538.40L277.49,538.40L278.32,538.40L279.16,538.40L280.00,538.40L280.84,538.40L281.68,538.40L282.51,538.40L283.35,538.40L284.19,538.40L285.03,538.40L285.87,538.40L286.70,538.40L287.54,538.41L288.38,538.41L289.22,538.41L290.05,538.41L290.89,538.41L291.73,538.42L292.57,538.42L293.41,538.43L294.24,538.44L295.08,538.44L295.92,538.46L296.76,538.47L297.60,538.49L298.43,538.51L299.27,538.54L300.11,538.57L300.95,538.61L301.78,538.67L302.62,538.73L303.46,538.82L304.30,538.92L305.14,539.05L305.97,539.21L306.81,539.41L307.65,539.66L308.49,539.97L309.33,540.35L310.16,540.82L311.00,541.40L311.84,542.10L312.68,542.95L313.51,543.97L314.35,545.19L315.19,546.64L316.03,548.32L316.87,550.26L317.70,552.46L318.54,554.90L319.38,557.55L320.22,560.37L321.06,563.30L321.89,566.27L322.73,569.21L323.57,572.04L324.41,574.71L325.24,577.16L326.08,579.38L326.92,581.34L327.76,583.04L328.60,584.50L329.43,585.74L330.27,586.78L331.11,587.64L331.95,588.36L332.78,588.94L333.62,589.42L334.46,589.80L335.30,590.12L336.14,590.37L336.97,590.57L337.81,590.74L338.65,590.87L339.49,590.98L340.33,591.06L341.16,591.13L342.00,591.18L342.84,591.23L343.68,591.26L344.51,591.29L345.35,591.31L346.19,591.33L347.03,591.34L347.87,591.35L348.70,591.36L349.54,591.37" stroke="#9e1c3c" stroke-width="2.3" fill="none" stroke-linejoin="round"/>
<path d="M249.00,538.40L249.84,538.40L250.68,538.40L251.51,538.40L252.35,538.40L253.19,538.40L254.03,538.40L254.86,538.40L255.70,538.40L256.54,538.40L257.38,538.40L258.22,538.40L259.05,538.40L259.89,538.40L260.73,538.40L261.57,538.40L262.41,538.40L263.24,538.40L264.08,538.40L264.92,538.40L265.76,538.40L266.59,538.40L267.43,538.40L268.27,538.40L269.11,538.40L269.95,538.40L270.78,538.40L271.62,538.40L272.46,538.40L273.30,538.40L274.14,538.40L274.97,538.40L275.81,538.40L276.65,538.40L277.49,538.40L278.32,538.40L279.16,538.40L280.00,538.40L280.84,538.40L281.68,538.40L282.51,538.40L283.35,538.40L284.19,538.40L285.03,538.40L285.87,538.40L286.70,538.40L287.54,538.40L288.38,538.40L289.22,538.40L290.05,538.40L290.89,538.41L291.73,538.41L292.57,538.41L293.41,538.41L294.24,538.41L295.08,538.41L295.92,538.41L296.76,538.42L297.60,538.42L298.43,538.42L299.27,538.43L300.11,538.43L300.95,538.44L301.78,538.45L302.62,538.46L303.46,538.47L304.30,538.48L305.14,538.49L305.97,538.51L306.81,538.53L307.65,538.56L308.49,538.59L309.33,538.62L310.16,538.66L311.00,538.71L311.84,538.76L312.68,538.83L313.51,538.91L314.35,539.00L315.19,539.11L316.03,539.24L316.87,539.40L317.70,539.58L318.54,539.79L319.38,540.04L320.22,540.33L321.06,540.67L321.89,541.07L322.73,541.54L323.57,542.08L324.41,542.70L325.24,543.42L326.08,544.25L326.92,545.19L327.76,546.26L328.60,547.46L329.43,548.81L330.27,550.30L331.11,551.94L331.95,553.72L332.78,555.63L333.62,557.65L334.46,559.78L335.30,561.97L336.14,564.21L336.97,566.45L337.81,568.68L338.65,570.85L339.49,572.94L340.33,574.92L341.16,576.78L342.00,578.51L342.84,580.09L343.68,581.53L344.51,582.82L345.35,583.97L346.19,584.99L347.03,585.88L347.87,586.67L348.70,587.35L349.54,587.94" stroke="#2c4a78" stroke-width="2.3" fill="none" stroke-linejoin="round"/>
<line x1="251.00" y1="564.90" x2="364.01" y2="564.90" stroke="#111" stroke-width="1.3" stroke-dasharray="1.4 1.5" stroke-linecap="butt"/>
<line x1="268.33" y1="536.81" x2="268.33" y2="539.99" stroke="#111" stroke-width="1.6" stroke-linecap="butt"/>
<line x1="266.23" y1="536.81" x2="270.44" y2="536.81" stroke="#111" stroke-width="1.4" stroke-linecap="butt"/>
<line x1="266.23" y1="539.99" x2="270.44" y2="539.99" stroke="#111" stroke-width="1.4" stroke-linecap="butt"/>
<circle cx="268.33" cy="538.40" r="1.9" fill="#111"/>
<line x1="268.33" y1="538.40" x2="268.33" y2="541.58" stroke="#111" stroke-width="1.6" stroke-linecap="butt"/>
<line x1="266.23" y1="538.40" x2="270.44" y2="538.40" stroke="#111" stroke-width="1.4" stroke-linecap="butt"/>
<line x1="266.23" y1="541.58" x2="270.44" y2="541.58" stroke="#111" stroke-width="1.4" stroke-linecap="butt"/>
<circle cx="268.33" cy="539.99" r="1.9" fill="#111"/>
<line x1="279.94" y1="532.57" x2="279.94" y2="536.81" stroke="#111" stroke-width="1.6" stroke-linecap="butt"/>
<line x1="277.84" y1="532.57" x2="282.04" y2="532.57" stroke="#111" stroke-width="1.4" stroke-linecap="butt"/>
<line x1="277.84" y1="536.81" x2="282.04" y2="536.81" stroke="#111" stroke-width="1.4" stroke-linecap="butt"/>
<circle cx="279.94" cy="534.69" r="1.9" fill="#111"/>
<line x1="279.94" y1="536.81" x2="279.94" y2="539.99" stroke="#111" stroke-width="1.6" stroke-linecap="butt"/>
<line x1="277.84" y1="536.81" x2="282.04" y2="536.81" stroke="#111" stroke-width="1.4" stroke-linecap="butt"/>
<line x1="277.84" y1="539.99" x2="282.04" y2="539.99" stroke="#111" stroke-width="1.4" stroke-linecap="butt"/>
<circle cx="279.94" cy="538.40" r="1.9" fill="#111"/>
<line x1="291.54" y1="529.39" x2="291.54" y2="533.63" stroke="#111" stroke-width="1.6" stroke-linecap="butt"/>
<line x1="289.44" y1="529.39" x2="293.64" y2="529.39" stroke="#111" stroke-width="1.4" stroke-linecap="butt"/>
<line x1="289.44" y1="533.63" x2="293.64" y2="533.63" stroke="#111" stroke-width="1.4" stroke-linecap="butt"/>
<circle cx="291.54" cy="531.51" r="1.9" fill="#111"/>
<line x1="291.54" y1="541.58" x2="291.54" y2="543.70" stroke="#111" stroke-width="1.6" stroke-linecap="butt"/>
<line x1="289.44" y1="541.58" x2="293.64" y2="541.58" stroke="#111" stroke-width="1.4" stroke-linecap="butt"/>
<line x1="289.44" y1="543.70" x2="293.64" y2="543.70" stroke="#111" stroke-width="1.4" stroke-linecap="butt"/>
<circle cx="291.54" cy="542.64" r="1.9" fill="#111"/>
<line x1="303.14" y1="525.68" x2="303.14" y2="528.86" stroke="#111" stroke-width="1.6" stroke-linecap="butt"/>
<line x1="301.04" y1="525.68" x2="305.24" y2="525.68" stroke="#111" stroke-width="1.4" stroke-linecap="butt"/>
<line x1="301.04" y1="528.86" x2="305.24" y2="528.86" stroke="#111" stroke-width="1.4" stroke-linecap="butt"/>
<circle cx="303.14" cy="527.27" r="1.9" fill="#111"/>
<line x1="303.14" y1="544.76" x2="303.14" y2="546.88" stroke="#111" stroke-width="1.6" stroke-linecap="butt"/>
<line x1="301.04" y1="544.76" x2="305.24" y2="544.76" stroke="#111" stroke-width="1.4" stroke-linecap="butt"/>
<line x1="301.04" y1="546.88" x2="305.24" y2="546.88" stroke="#111" stroke-width="1.4" stroke-linecap="butt"/>
<circle cx="303.14" cy="545.82" r="1.9" fill="#111"/>
<line x1="314.74" y1="528.33" x2="314.74" y2="532.57" stroke="#111" stroke-width="1.6" stroke-linecap="butt"/>
<line x1="312.64" y1="528.33" x2="316.84" y2="528.33" stroke="#111" stroke-width="1.4" stroke-linecap="butt"/>
<line x1="312.64" y1="532.57" x2="316.84" y2="532.57" stroke="#111" stroke-width="1.4" stroke-linecap="butt"/>
<circle cx="314.74" cy="530.45" r="1.9" fill="#111"/>
<line x1="314.74" y1="546.88" x2="314.74" y2="549.00" stroke="#111" stroke-width="1.6" stroke-linecap="butt"/>
<line x1="312.64" y1="546.88" x2="316.84" y2="546.88" stroke="#111" stroke-width="1.4" stroke-linecap="butt"/>
<line x1="312.64" y1="549.00" x2="316.84" y2="549.00" stroke="#111" stroke-width="1.4" stroke-linecap="butt"/>
<circle cx="314.74" cy="547.94" r="1.9" fill="#111"/>
<line x1="326.34" y1="545.82" x2="326.34" y2="547.94" stroke="#111" stroke-width="1.6" stroke-linecap="butt"/>
<line x1="324.24" y1="545.82" x2="328.44" y2="545.82" stroke="#111" stroke-width="1.4" stroke-linecap="butt"/>
<line x1="324.24" y1="547.94" x2="328.44" y2="547.94" stroke="#111" stroke-width="1.4" stroke-linecap="butt"/>
<circle cx="326.34" cy="546.88" r="1.9" fill="#111"/>
<line x1="326.34" y1="572.85" x2="326.34" y2="577.09" stroke="#111" stroke-width="1.6" stroke-linecap="butt"/>
<line x1="324.24" y1="572.85" x2="328.44" y2="572.85" stroke="#111" stroke-width="1.4" stroke-linecap="butt"/>
<line x1="324.24" y1="577.09" x2="328.44" y2="577.09" stroke="#111" stroke-width="1.4" stroke-linecap="butt"/>
<circle cx="326.34" cy="574.97" r="1.9" fill="#111"/>
<line x1="337.94" y1="565.43" x2="337.94" y2="569.67" stroke="#111" stroke-width="1.6" stroke-linecap="butt"/>
<line x1="335.84" y1="565.43" x2="340.04" y2="565.43" stroke="#111" stroke-width="1.4" stroke-linecap="butt"/>
<line x1="335.84" y1="569.67" x2="340.04" y2="569.67" stroke="#111" stroke-width="1.4" stroke-linecap="butt"/>
<circle cx="337.94" cy="567.55" r="1.9" fill="#111"/>
<line x1="249.00" y1="507.70" x2="249.00" y2="595.60" stroke="#111" stroke-width="1.8" stroke-linecap="butt"/>
<line x1="248.10" y1="591.40" x2="369.01" y2="591.40" stroke="#111" stroke-width="1.8" stroke-linecap="butt"/>
<line x1="245.10" y1="591.40" x2="249.00" y2="591.40" stroke="#111" stroke-width="1.5" stroke-linecap="butt"/>
<text x="240.80" y="595.00" font-size="9.7" text-anchor="end" fill="#111">0</text>
<line x1="245.10" y1="564.90" x2="249.00" y2="564.90" stroke="#111" stroke-width="1.5" stroke-linecap="butt"/>
<text x="240.80" y="568.50" font-size="9.7" text-anchor="end" fill="#111">50</text>
<line x1="245.10" y1="538.40" x2="249.00" y2="538.40" stroke="#111" stroke-width="1.5" stroke-linecap="butt"/>
<text x="240.80" y="542.00" font-size="9.7" text-anchor="end" fill="#111">100</text>
<line x1="245.10" y1="511.90" x2="249.00" y2="511.90" stroke="#111" stroke-width="1.5" stroke-linecap="butt"/>
<text x="240.80" y="515.50" font-size="9.7" text-anchor="end" fill="#111">150</text>
<line x1="287.67" y1="591.40" x2="287.67" y2="595.60" stroke="#111" stroke-width="1.5" stroke-linecap="butt"/>
<text x="287.67" y="608.40" font-size="9.7" text-anchor="middle" fill="#111">1</text>
<line x1="326.34" y1="591.40" x2="326.34" y2="595.60" stroke="#111" stroke-width="1.5" stroke-linecap="butt"/>
<text x="326.34" y="608.40" font-size="9.7" text-anchor="middle" fill="#111">2</text>
<line x1="365.01" y1="591.40" x2="365.01" y2="595.60" stroke="#111" stroke-width="1.5" stroke-linecap="butt"/>
<text x="365.01" y="608.40" font-size="9.7" text-anchor="middle" fill="#111">3</text>
<text x="255.90" y="515.90" font-size="9.6" text-anchor="start" fill="#111" letter-spacing="0.2">ALL-SIL</text>
<text x="308.80" y="502.30" font-size="12.2" text-anchor="middle" fill="#111">Doxorubicin</text>
<line x1="360.20" y1="520.50" x2="370.20" y2="520.50" stroke="#1a2040" stroke-width="2.2" stroke-linecap="butt"/>
<ellipse cx="365.20" cy="520.50" rx="2.1" ry="1.8" fill="#0a0a0a"/>
<text x="372.20" y="523.90" font-size="9.6" text-anchor="start" fill="#111" letter-spacing="0.1">DMSO</text>
<line x1="360.20" y1="532.20" x2="370.20" y2="532.20" stroke="#7a1634" stroke-width="2.2" stroke-linecap="butt"/>
<ellipse cx="365.20" cy="532.20" rx="2.1" ry="1.8" fill="#0a0a0a"/>
<text x="372.20" y="535.60" font-size="9.6" text-anchor="start" fill="#111" letter-spacing="0.1">GDC-0449</text>
<path d="M88.90,656.39L89.73,656.39L90.57,656.40L91.40,656.41L92.24,656.42L93.07,656.42L93.91,656.43L94.74,656.44L95.58,656.46L96.41,656.47L97.25,656.48L98.08,656.49L98.92,656.51L99.75,656.53L100.59,656.54L101.42,656.56L102.26,656.58L103.09,656.60L103.93,656.63L104.76,656.65L105.60,656.68L106.43,656.71L107.27,656.74L108.10,656.77L108.94,656.81L109.77,656.85L110.61,656.89L111.44,656.94L112.27,656.99L113.11,657.04L113.94,657.10L114.78,657.16L115.61,657.22L116.45,657.29L117.28,657.37L118.12,657.45L118.95,657.54L119.79,657.63L120.62,657.73L121.46,657.84L122.29,657.96L123.13,658.08L123.96,658.21L124.80,658.36L125.63,658.51L126.47,658.67L127.30,658.85L128.14,659.04L128.97,659.24L129.81,659.45L130.64,659.68L131.48,659.92L132.31,660.19L133.15,660.46L133.98,660.76L134.81,661.07L135.65,661.41L136.48,661.77L137.32,662.14L138.15,662.54L138.99,662.97L139.82,663.42L140.66,663.89L141.49,664.39L142.33,664.92L143.16,665.47L144.00,666.05L144.83,666.66L145.67,667.30L146.50,667.96L147.34,668.66L148.17,669.38L149.01,670.13L149.84,670.91L150.68,671.71L151.51,672.54L152.35,673.39L153.18,674.27L154.02,675.16L154.85,676.08L155.69,677.02L156.52,677.96L157.35,678.93L158.19,679.90L159.02,680.88L159.86,681.86L160.69,682.85L161.53,683.84L162.36,684.82L163.20,685.80L164.03,686.77L164.87,687.73L165.70,688.67L166.54,689.60L167.37,690.51L168.21,691.40L169.04,692.27L169.88,693.12L170.71,693.94L171.55,694.74L172.38,695.51L173.22,696.25L174.05,696.96L174.89,697.65L175.72,698.30L176.56,698.93L177.39,699.53L178.23,700.10L179.06,700.65L179.90,701.17L180.73,701.66L181.56,702.12L182.40,702.56L183.23,702.98L184.07,703.37L184.90,703.75L185.74,704.10L186.57,704.42L187.41,704.73L188.24,705.02L189.08,705.30" stroke="#4a2750" stroke-width="2.7" fill="none" stroke-linejoin="round"/>
<line x1="90.90" y1="682.70" x2="203.49" y2="682.70" stroke="#111" stroke-width="1.3" stroke-dasharray="1.4 1.5" stroke-linecap="butt"/>
<line x1="108.17" y1="655.24" x2="108.17" y2="657.36" stroke="#111" stroke-width="1.6" stroke-linecap="butt"/>
<line x1="106.07" y1="655.24" x2="110.27" y2="655.24" stroke="#111" stroke-width="1.4" stroke-linecap="butt"/>
<line x1="106.07" y1="657.36" x2="110.27" y2="657.36" stroke="#111" stroke-width="1.4" stroke-linecap="butt"/>
<circle cx="108.17" cy="656.30" r="1.9" fill="#111"/>
<line x1="119.72" y1="656.83" x2="119.72" y2="658.94" stroke="#111" stroke-width="1.6" stroke-linecap="butt"/>
<line x1="117.62" y1="656.83" x2="121.82" y2="656.83" stroke="#111" stroke-width="1.4" stroke-linecap="butt"/>
<line x1="117.62" y1="658.94" x2="121.82" y2="658.94" stroke="#111" stroke-width="1.4" stroke-linecap="butt"/>
<circle cx="119.72" cy="657.88" r="1.9" fill="#111"/>
<line x1="119.72" y1="657.88" x2="119.72" y2="660.00" stroke="#111" stroke-width="1.6" stroke-linecap="butt"/>
<line x1="117.62" y1="657.88" x2="121.82" y2="657.88" stroke="#111" stroke-width="1.4" stroke-linecap="butt"/>
<line x1="117.62" y1="660.00" x2="121.82" y2="660.00" stroke="#111" stroke-width="1.4" stroke-linecap="butt"/>
<circle cx="119.72" cy="658.94" r="1.9" fill="#111"/>
<line x1="131.28" y1="658.94" x2="131.28" y2="662.11" stroke="#111" stroke-width="1.6" stroke-linecap="butt"/>
<line x1="129.18" y1="658.94" x2="133.38" y2="658.94" stroke="#111" stroke-width="1.4" stroke-linecap="butt"/>
<line x1="129.18" y1="662.11" x2="133.38" y2="662.11" stroke="#111" stroke-width="1.4" stroke-linecap="butt"/>
<circle cx="131.28" cy="660.52" r="1.9" fill="#111"/>
<line x1="131.28" y1="661.05" x2="131.28" y2="663.16" stroke="#111" stroke-width="1.6" stroke-linecap="butt"/>
<line x1="129.18" y1="661.05" x2="133.38" y2="661.05" stroke="#111" stroke-width="1.4" stroke-linecap="butt"/>
<line x1="129.18" y1="663.16" x2="133.38" y2="663.16" stroke="#111" stroke-width="1.4" stroke-linecap="butt"/>
<circle cx="131.28" cy="662.11" r="1.9" fill="#111"/>
<line x1="142.84" y1="666.33" x2="142.84" y2="668.44" stroke="#111" stroke-width="1.6" stroke-linecap="butt"/>
<line x1="140.74" y1="666.33" x2="144.94" y2="666.33" stroke="#111" stroke-width="1.4" stroke-linecap="butt"/>
<line x1="140.74" y1="668.44" x2="144.94" y2="668.44" stroke="#111" stroke-width="1.4" stroke-linecap="butt"/>
<circle cx="142.84" cy="667.39" r="1.9" fill="#111"/>
<line x1="154.40" y1="675.31" x2="154.40" y2="678.48" stroke="#111" stroke-width="1.6" stroke-linecap="butt"/>
<line x1="152.30" y1="675.31" x2="156.50" y2="675.31" stroke="#111" stroke-width="1.4" stroke-linecap="butt"/>
<line x1="152.30" y1="678.48" x2="156.50" y2="678.48" stroke="#111" stroke-width="1.4" stroke-linecap="butt"/>
<circle cx="154.40" cy="676.89" r="1.9" fill="#111"/>
<line x1="154.40" y1="677.95" x2="154.40" y2="680.06" stroke="#111" stroke-width="1.6" stroke-linecap="butt"/>
<line x1="152.30" y1="677.95" x2="156.50" y2="677.95" stroke="#111" stroke-width="1.4" stroke-linecap="butt"/>
<line x1="152.30" y1="680.06" x2="156.50" y2="680.06" stroke="#111" stroke-width="1.4" stroke-linecap="butt"/>
<circle cx="154.40" cy="679.00" r="1.9" fill="#111"/>
<line x1="165.96" y1="685.34" x2="165.96" y2="688.51" stroke="#111" stroke-width="1.6" stroke-linecap="butt"/>
<line x1="163.86" y1="685.34" x2="168.06" y2="685.34" stroke="#111" stroke-width="1.4" stroke-linecap="butt"/>
<line x1="163.86" y1="688.51" x2="168.06" y2="688.51" stroke="#111" stroke-width="1.4" stroke-linecap="butt"/>
<circle cx="165.96" cy="686.92" r="1.9" fill="#111"/>
<line x1="165.96" y1="689.04" x2="165.96" y2="691.15" stroke="#111" stroke-width="1.6" stroke-linecap="butt"/>
<line x1="163.86" y1="689.04" x2="168.06" y2="689.04" stroke="#111" stroke-width="1.4" stroke-linecap="butt"/>
<line x1="163.86" y1="691.15" x2="168.06" y2="691.15" stroke="#111" stroke-width="1.4" stroke-linecap="butt"/>
<circle cx="165.96" cy="690.09" r="1.9" fill="#111"/>
<line x1="177.52" y1="698.54" x2="177.52" y2="700.65" stroke="#111" stroke-width="1.6" stroke-linecap="butt"/>
<line x1="175.42" y1="698.54" x2="179.62" y2="698.54" stroke="#111" stroke-width="1.4" stroke-linecap="butt"/>
<line x1="175.42" y1="700.65" x2="179.62" y2="700.65" stroke="#111" stroke-width="1.4" stroke-linecap="butt"/>
<circle cx="177.52" cy="699.60" r="1.9" fill="#111"/>
<line x1="189.08" y1="703.82" x2="189.08" y2="705.93" stroke="#111" stroke-width="1.6" stroke-linecap="butt"/>
<line x1="186.98" y1="703.82" x2="191.18" y2="703.82" stroke="#111" stroke-width="1.4" stroke-linecap="butt"/>
<line x1="186.98" y1="705.93" x2="191.18" y2="705.93" stroke="#111" stroke-width="1.4" stroke-linecap="butt"/>
<circle cx="189.08" cy="704.88" r="1.9" fill="#111"/>
<line x1="88.90" y1="625.70" x2="88.90" y2="713.30" stroke="#111" stroke-width="1.8" stroke-linecap="butt"/>
<line x1="88.00" y1="709.10" x2="208.49" y2="709.10" stroke="#111" stroke-width="1.8" stroke-linecap="butt"/>
<line x1="85.00" y1="709.10" x2="88.90" y2="709.10" stroke="#111" stroke-width="1.5" stroke-linecap="butt"/>
<text x="80.70" y="712.70" font-size="9.7" text-anchor="end" fill="#111">0</text>
<line x1="85.00" y1="682.70" x2="88.90" y2="682.70" stroke="#111" stroke-width="1.5" stroke-linecap="butt"/>
<text x="80.70" y="686.30" font-size="9.7" text-anchor="end" fill="#111">50</text>
<line x1="85.00" y1="656.30" x2="88.90" y2="656.30" stroke="#111" stroke-width="1.5" stroke-linecap="butt"/>
<text x="80.70" y="659.90" font-size="9.7" text-anchor="end" fill="#111">100</text>
<line x1="85.00" y1="629.90" x2="88.90" y2="629.90" stroke="#111" stroke-width="1.5" stroke-linecap="butt"/>
<text x="80.70" y="633.50" font-size="9.7" text-anchor="end" fill="#111">150</text>
<line x1="127.43" y1="709.10" x2="127.43" y2="713.30" stroke="#111" stroke-width="1.5" stroke-linecap="butt"/>
<text x="127.43" y="726.10" font-size="9.7" text-anchor="middle" fill="#111">1</text>
<line x1="165.96" y1="709.10" x2="165.96" y2="713.30" stroke="#111" stroke-width="1.5" stroke-linecap="butt"/>
<text x="165.96" y="726.10" font-size="9.7" text-anchor="middle" fill="#111">2</text>
<line x1="204.49" y1="709.10" x2="204.49" y2="713.30" stroke="#111" stroke-width="1.5" stroke-linecap="butt"/>
<text x="204.49" y="726.10" font-size="9.7" text-anchor="middle" fill="#111">3</text>
<text x="94.60" y="634.70" font-size="9.6" text-anchor="start" fill="#111" letter-spacing="0.2">P12-ICHIKAWA</text>
<text x="149.30" y="742.40" font-size="11.5" text-anchor="middle" fill="#111">log10 (nM)</text>
<text x="40.60" y="667.20" font-size="11.8" text-anchor="middle" fill="#111" transform="rotate(-90 40.6 667.2)" textLength="40.1" lengthAdjust="spacingAndGlyphs">Relative</text>
<text x="55.60" y="667.20" font-size="11.8" text-anchor="middle" fill="#111" transform="rotate(-90 55.6 667.2)" textLength="73.6" lengthAdjust="spacingAndGlyphs">proliferation %</text>
<path d="M249.10,654.70L249.94,654.70L250.77,654.70L251.61,654.70L252.45,654.70L253.28,654.70L254.12,654.70L254.96,654.70L255.80,654.70L256.63,654.70L257.47,654.70L258.31,654.70L259.14,654.70L259.98,654.70L260.82,654.70L261.65,654.70L262.49,654.70L263.33,654.70L264.17,654.70L265.00,654.70L265.84,654.70L266.68,654.70L267.51,654.70L268.35,654.70L269.19,654.70L270.02,654.70L270.86,654.70L271.70,654.70L272.54,654.70L273.37,654.71L274.21,654.71L275.05,654.71L275.88,654.71L276.72,654.71L277.56,654.71L278.39,654.71L279.23,654.72L280.07,654.72L280.91,654.72L281.74,654.72L282.58,654.73L283.42,654.73L284.25,654.74L285.09,654.74L285.93,654.75L286.76,654.76L287.60,654.77L288.44,654.78L289.28,654.79L290.11,654.81L290.95,654.82L291.79,654.84L292.62,654.87L293.46,654.89L294.30,654.93L295.13,654.96L295.97,655.00L296.81,655.05L297.65,655.11L298.48,655.17L299.32,655.25L300.16,655.34L300.99,655.44L301.83,655.56L302.67,655.69L303.50,655.85L304.34,656.03L305.18,656.24L306.01,656.48L306.85,656.75L307.69,657.07L308.53,657.43L309.36,657.85L310.20,658.32L311.04,658.86L311.87,659.47L312.71,660.16L313.55,660.94L314.38,661.81L315.22,662.78L316.06,663.86L316.90,665.05L317.73,666.35L318.57,667.77L319.41,669.30L320.24,670.93L321.08,672.67L321.92,674.48L322.75,676.37L323.59,678.31L324.43,680.29L325.27,682.27L326.10,684.24L326.94,686.17L327.78,688.06L328.61,689.87L329.45,691.59L330.29,693.22L331.12,694.74L331.96,696.15L332.80,697.45L333.64,698.63L334.47,699.70L335.31,700.66L336.15,701.53L336.98,702.30L337.82,702.98L338.66,703.59L339.49,704.12L340.33,704.59L341.17,705.00L342.01,705.36L342.84,705.67L343.68,705.94L344.52,706.18L345.35,706.39L346.19,706.57L347.03,706.72L347.86,706.85L348.70,706.97L349.54,707.07" stroke="#9e1c3c" stroke-width="2.4" fill="none" stroke-linejoin="round"/>
<path d="M249.10,654.70L249.94,654.70L250.77,654.70L251.61,654.70L252.45,654.70L253.28,654.70L254.12,654.70L254.96,654.70L255.80,654.70L256.63,654.70L257.47,654.70L258.31,654.70L259.14,654.70L259.98,654.70L260.82,654.70L261.65,654.70L262.49,654.70L263.33,654.70L264.17,654.70L265.00,654.70L265.84,654.70L266.68,654.70L267.51,654.70L268.35,654.70L269.19,654.70L270.02,654.70L270.86,654.70L271.70,654.70L272.54,654.71L273.37,654.71L274.21,654.71L275.05,654.71L275.88,654.71L276.72,654.71L277.56,654.71L278.39,654.72L279.23,654.72L280.07,654.72L280.91,654.73L281.74,654.73L282.58,654.73L283.42,654.74L284.25,654.75L285.09,654.75L285.93,654.76L286.76,654.77L287.60,654.78L288.44,654.80L289.28,654.81L290.11,654.83L290.95,654.85L291.79,654.88L292.62,654.91L293.46,654.94L294.30,654.98L295.13,655.02L295.97,655.07L296.81,655.13L297.65,655.20L298.48,655.28L299.32,655.37L300.16,655.48L300.99,655.61L301.83,655.75L302.67,655.91L303.50,656.10L304.34,656.32L305.18,656.58L306.01,656.87L306.85,657.20L307.69,657.58L308.53,658.02L309.36,658.52L310.20,659.08L311.04,659.72L311.87,660.45L312.71,661.26L313.55,662.17L314.38,663.18L315.22,664.30L316.06,665.54L316.90,666.88L317.73,668.35L318.57,669.92L319.41,671.59L320.24,673.36L321.08,675.20L321.92,677.11L322.75,679.07L323.59,681.05L324.43,683.03L325.27,684.99L326.10,686.91L326.94,688.76L327.78,690.54L328.61,692.23L329.45,693.82L330.29,695.30L331.12,696.66L331.96,697.91L332.80,699.05L333.64,700.08L334.47,701.01L335.31,701.83L336.15,702.57L336.98,703.22L337.82,703.80L338.66,704.31L339.49,704.75L340.33,705.14L341.17,705.48L342.01,705.78L342.84,706.04L343.68,706.26L344.52,706.46L345.35,706.63L346.19,706.77L347.03,706.90L347.86,707.01L348.70,707.11L349.54,707.19" stroke="#2c4a78" stroke-width="2.2" fill="none" stroke-linejoin="round"/>
<line x1="251.10" y1="681.20" x2="363.99" y2="681.20" stroke="#111" stroke-width="1.3" stroke-dasharray="1.4 1.5" stroke-linecap="butt"/>
<line x1="268.42" y1="653.11" x2="268.42" y2="655.23" stroke="#111" stroke-width="1.6" stroke-linecap="butt"/>
<line x1="266.31" y1="653.11" x2="270.52" y2="653.11" stroke="#111" stroke-width="1.4" stroke-linecap="butt"/>
<line x1="266.31" y1="655.23" x2="270.52" y2="655.23" stroke="#111" stroke-width="1.4" stroke-linecap="butt"/>
<circle cx="268.42" cy="654.17" r="1.9" fill="#111"/>
<line x1="280.00" y1="652.58" x2="280.00" y2="654.70" stroke="#111" stroke-width="1.6" stroke-linecap="butt"/>
<line x1="277.90" y1="652.58" x2="282.10" y2="652.58" stroke="#111" stroke-width="1.4" stroke-linecap="butt"/>
<line x1="277.90" y1="654.70" x2="282.10" y2="654.70" stroke="#111" stroke-width="1.4" stroke-linecap="butt"/>
<circle cx="280.00" cy="653.64" r="1.9" fill="#111"/>
<line x1="291.59" y1="651.52" x2="291.59" y2="654.70" stroke="#111" stroke-width="1.6" stroke-linecap="butt"/>
<line x1="289.49" y1="651.52" x2="293.69" y2="651.52" stroke="#111" stroke-width="1.4" stroke-linecap="butt"/>
<line x1="289.49" y1="654.70" x2="293.69" y2="654.70" stroke="#111" stroke-width="1.4" stroke-linecap="butt"/>
<circle cx="291.59" cy="653.11" r="1.9" fill="#111"/>
<line x1="291.59" y1="653.64" x2="291.59" y2="655.76" stroke="#111" stroke-width="1.6" stroke-linecap="butt"/>
<line x1="289.49" y1="653.64" x2="293.69" y2="653.64" stroke="#111" stroke-width="1.4" stroke-linecap="butt"/>
<line x1="289.49" y1="655.76" x2="293.69" y2="655.76" stroke="#111" stroke-width="1.4" stroke-linecap="butt"/>
<circle cx="291.59" cy="654.70" r="1.9" fill="#111"/>
<line x1="303.18" y1="651.52" x2="303.18" y2="654.70" stroke="#111" stroke-width="1.6" stroke-linecap="butt"/>
<line x1="301.08" y1="651.52" x2="305.28" y2="651.52" stroke="#111" stroke-width="1.4" stroke-linecap="butt"/>
<line x1="301.08" y1="654.70" x2="305.28" y2="654.70" stroke="#111" stroke-width="1.4" stroke-linecap="butt"/>
<circle cx="303.18" cy="653.11" r="1.9" fill="#111"/>
<line x1="303.18" y1="653.64" x2="303.18" y2="655.76" stroke="#111" stroke-width="1.6" stroke-linecap="butt"/>
<line x1="301.08" y1="653.64" x2="305.28" y2="653.64" stroke="#111" stroke-width="1.4" stroke-linecap="butt"/>
<line x1="301.08" y1="655.76" x2="305.28" y2="655.76" stroke="#111" stroke-width="1.4" stroke-linecap="butt"/>
<circle cx="303.18" cy="654.70" r="1.9" fill="#111"/>
<line x1="314.77" y1="662.65" x2="314.77" y2="665.83" stroke="#111" stroke-width="1.6" stroke-linecap="butt"/>
<line x1="312.67" y1="662.65" x2="316.87" y2="662.65" stroke="#111" stroke-width="1.4" stroke-linecap="butt"/>
<line x1="312.67" y1="665.83" x2="316.87" y2="665.83" stroke="#111" stroke-width="1.4" stroke-linecap="butt"/>
<circle cx="314.77" cy="664.24" r="1.9" fill="#111"/>
<line x1="314.77" y1="665.83" x2="314.77" y2="669.01" stroke="#111" stroke-width="1.6" stroke-linecap="butt"/>
<line x1="312.67" y1="665.83" x2="316.87" y2="665.83" stroke="#111" stroke-width="1.4" stroke-linecap="butt"/>
<line x1="312.67" y1="669.01" x2="316.87" y2="669.01" stroke="#111" stroke-width="1.4" stroke-linecap="butt"/>
<circle cx="314.77" cy="667.42" r="1.9" fill="#111"/>
<line x1="326.36" y1="686.50" x2="326.36" y2="688.62" stroke="#111" stroke-width="1.6" stroke-linecap="butt"/>
<line x1="324.26" y1="686.50" x2="328.46" y2="686.50" stroke="#111" stroke-width="1.4" stroke-linecap="butt"/>
<line x1="324.26" y1="688.62" x2="328.46" y2="688.62" stroke="#111" stroke-width="1.4" stroke-linecap="butt"/>
<circle cx="326.36" cy="687.56" r="1.9" fill="#111"/>
<line x1="337.95" y1="699.75" x2="337.95" y2="701.87" stroke="#111" stroke-width="1.6" stroke-linecap="butt"/>
<line x1="335.85" y1="699.75" x2="340.05" y2="699.75" stroke="#111" stroke-width="1.4" stroke-linecap="butt"/>
<line x1="335.85" y1="701.87" x2="340.05" y2="701.87" stroke="#111" stroke-width="1.4" stroke-linecap="butt"/>
<circle cx="337.95" cy="700.81" r="1.9" fill="#111"/>
<line x1="249.10" y1="624.00" x2="249.10" y2="711.90" stroke="#111" stroke-width="1.8" stroke-linecap="butt"/>
<line x1="248.20" y1="707.70" x2="368.99" y2="707.70" stroke="#111" stroke-width="1.8" stroke-linecap="butt"/>
<line x1="245.20" y1="707.70" x2="249.10" y2="707.70" stroke="#111" stroke-width="1.5" stroke-linecap="butt"/>
<text x="240.90" y="711.30" font-size="9.7" text-anchor="end" fill="#111">0</text>
<line x1="245.20" y1="681.20" x2="249.10" y2="681.20" stroke="#111" stroke-width="1.5" stroke-linecap="butt"/>
<text x="240.90" y="684.80" font-size="9.7" text-anchor="end" fill="#111">50</text>
<line x1="245.20" y1="654.70" x2="249.10" y2="654.70" stroke="#111" stroke-width="1.5" stroke-linecap="butt"/>
<text x="240.90" y="658.30" font-size="9.7" text-anchor="end" fill="#111">100</text>
<line x1="245.20" y1="628.20" x2="249.10" y2="628.20" stroke="#111" stroke-width="1.5" stroke-linecap="butt"/>
<text x="240.90" y="631.80" font-size="9.7" text-anchor="end" fill="#111">150</text>
<line x1="287.73" y1="707.70" x2="287.73" y2="711.90" stroke="#111" stroke-width="1.5" stroke-linecap="butt"/>
<text x="287.73" y="724.70" font-size="9.7" text-anchor="middle" fill="#111">1</text>
<line x1="326.36" y1="707.70" x2="326.36" y2="711.90" stroke="#111" stroke-width="1.5" stroke-linecap="butt"/>
<text x="326.36" y="724.70" font-size="9.7" text-anchor="middle" fill="#111">2</text>
<line x1="364.99" y1="707.70" x2="364.99" y2="711.90" stroke="#111" stroke-width="1.5" stroke-linecap="butt"/>
<text x="364.99" y="724.70" font-size="9.7" text-anchor="middle" fill="#111">3</text>
<text x="254.60" y="634.00" font-size="9.6" text-anchor="start" fill="#111" letter-spacing="0.2">P12-ICHIKAWA</text>
<text x="309.50" y="741.60" font-size="11.5" text-anchor="middle" fill="#111">log10 (nM)</text>
<line x1="360.20" y1="635.40" x2="370.20" y2="635.40" stroke="#1a2040" stroke-width="2.2" stroke-linecap="butt"/>
<ellipse cx="365.20" cy="635.40" rx="2.1" ry="1.8" fill="#0a0a0a"/>
<text x="372.20" y="638.80" font-size="9.6" text-anchor="start" fill="#111" letter-spacing="0.1">DMSO</text>
<line x1="360.20" y1="647.90" x2="370.20" y2="647.90" stroke="#7a1634" stroke-width="2.2" stroke-linecap="butt"/>
<ellipse cx="365.20" cy="647.90" rx="2.1" ry="1.8" fill="#0a0a0a"/>
<text x="372.20" y="651.30" font-size="9.6" text-anchor="start" fill="#111" letter-spacing="0.1">GDC-0449</text>
</svg>
<div style="position:absolute;left:0;top:0;width:520px;height:1px;background:#000"></div>
<div style="position:absolute;left:0;top:1px;width:520px;height:1px;background:#8a8a8a"></div>
<div style="position:absolute;left:0;top:0;width:1px;height:930px;background:#000"></div>
<div style="position:absolute;left:1px;top:1px;width:1px;height:929px;background:#5a5a5a"></div>
<div style="position:absolute;left:517px;top:0;width:1px;height:928px;background:#c8c8c8"></div>
<div style="position:absolute;left:518px;top:0;width:2px;height:930px;background:#000"></div>
<div style="position:absolute;left:0;top:927px;width:518px;height:1px;background:#c8c8c8"></div>
<div style="position:absolute;left:0;top:928px;width:520px;height:2px;background:#000"></div>
</body></html>
